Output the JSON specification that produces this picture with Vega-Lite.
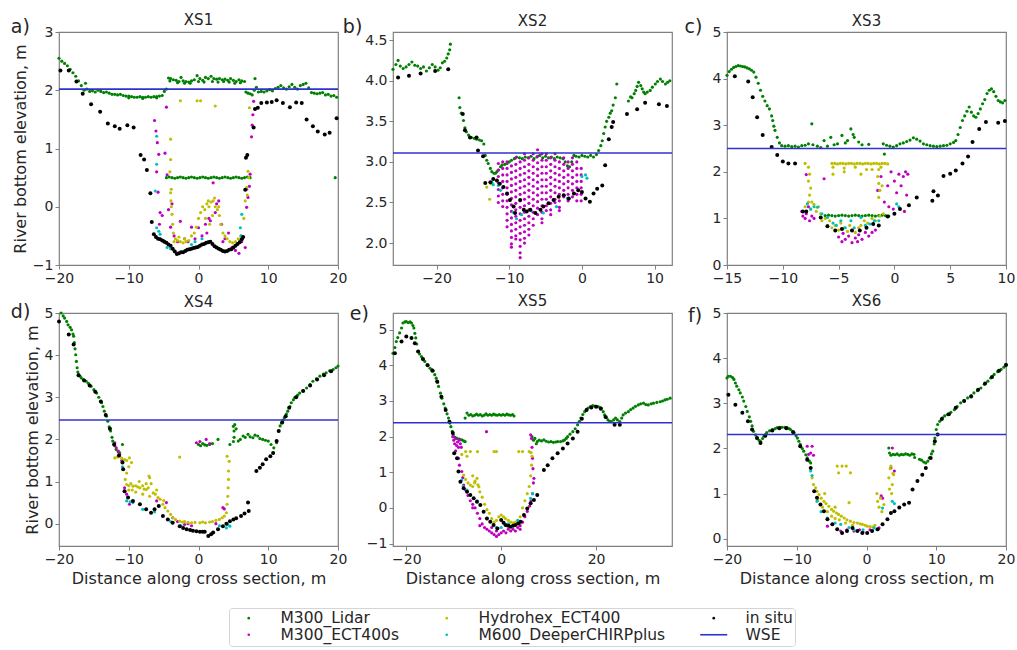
{
"$schema":"https://vega.github.io/schema/vega-lite/v6.json",
"padding":{"left":10,"top":12,"right":5,"bottom":0},
"config":{"font":"DejaVu Sans","view":{"stroke":"#808080","strokeWidth":1.2},
"axis":{"labelFont":"DejaVu Sans","labelFontSize":14,"labelColor":"#262626","labelFlush":false,"titleFont":"DejaVu Sans","titleFontSize":16,"titleFontWeight":"normal","titleColor":"#262626","tickColor":"#808080","tickSize":4,"domain":false,"grid":false,"labelPadding":2,"titlePadding":4},
"legend":{"orient":"none","legendX":170,"legendY":576,"columns":3,"labelFont":"DejaVu Sans","labelFontSize":15.5,"labelColor":"#262626","labelLimit":300,"symbolSize":7,"symbolStrokeWidth":0,"strokeColor":"#d5d5d5","fillColor":"white","cornerRadius":3,"padding":2,"rowPadding":0,"columnPadding":30,"symbolOffset":10,"labelOffset":24}},
"data":{"values":[
{"p":1,"s":"T","k":"n","t":"a)"},{"p":1,"s":"T","k":"h","t":"XS1"},{"p":2,"s":"T","k":"n","t":"b)"},{"p":2,"s":"T","k":"h","t":"XS2"},{"p":3,"s":"T","k":"n","t":"c)"},{"p":3,"s":"T","k":"h","t":"XS3"},{"p":4,"s":"T","k":"n","t":"d)"},{"p":4,"s":"T","k":"h","t":"XS4"},{"p":5,"s":"T","k":"n","t":"e)"},{"p":5,"s":"T","k":"h","t":"XS5"},{"p":6,"s":"T","k":"n","t":"f)"},{"p":6,"s":"T","k":"h","t":"XS6"},
{"p":1,"s":"L","x":-20,"y":2.55},{"p":1,"s":"L","x":-19.6,"y":2.5},{"p":1,"s":"L","x":-19.2,"y":2.46},{"p":1,"s":"L","x":-18.8,"y":2.42},{"p":1,"s":"L","x":-18.4,"y":2.36},{"p":1,"s":"L","x":-18,"y":2.3},{"p":1,"s":"L","x":-17.6,"y":2.24},{"p":1,"s":"L","x":-17.2,"y":2.16},{"p":1,"s":"L","x":-16.8,"y":2.08},{"p":1,"s":"L","x":-16.4,"y":2.0},{"p":1,"s":"L","x":-16.2,"y":2.12},{"p":1,"s":"L","x":-16,"y":2.02},{"p":1,"s":"L","x":-15.6,"y":1.98},{"p":1,"s":"L","x":-15.2,"y":1.99},{"p":1,"s":"L","x":-14.8,"y":1.97},{"p":1,"s":"L","x":-14.4,"y":2.0},{"p":1,"s":"L","x":-14,"y":1.98},{"p":1,"s":"L","x":-13.6,"y":1.96},{"p":1,"s":"L","x":-13.2,"y":1.97},{"p":1,"s":"L","x":-12.8,"y":1.95},{"p":1,"s":"L","x":-12.4,"y":1.93},{"p":1,"s":"L","x":-12,"y":1.93},{"p":1,"s":"L","x":-11.6,"y":1.92},{"p":1,"s":"L","x":-11.2,"y":1.93},{"p":1,"s":"L","x":-10.8,"y":1.91},{"p":1,"s":"L","x":-10.4,"y":1.9},{"p":1,"s":"L","x":-10,"y":1.9},{"p":1,"s":"L","x":-9.6,"y":1.89},{"p":1,"s":"L","x":-9.2,"y":1.88},{"p":1,"s":"L","x":-8.8,"y":1.88},{"p":1,"s":"L","x":-8.4,"y":1.89},{"p":1,"s":"L","x":-8,"y":1.88},{"p":1,"s":"L","x":-7.6,"y":1.88},{"p":1,"s":"L","x":-7.2,"y":1.89},{"p":1,"s":"L","x":-6.8,"y":1.88},{"p":1,"s":"L","x":-6.4,"y":1.89},{"p":1,"s":"L","x":-6,"y":1.89},{"p":1,"s":"L","x":-5.6,"y":1.9},{"p":1,"s":"L","x":-5.2,"y":1.91},{"p":1,"s":"L","x":-4.9,"y":1.98},{"p":1,"s":"L","x":-4.6,"y":2.02},{"p":1,"s":"L","x":-4.3,"y":2.21},{"p":1,"s":"L","x":-4,"y":2.2},{"p":1,"s":"L","x":-3.6,"y":2.18},{"p":1,"s":"L","x":-3.2,"y":2.17},{"p":1,"s":"L","x":-2.8,"y":2.15},{"p":1,"s":"L","x":-2.5,"y":2.22},{"p":1,"s":"L","x":-2.2,"y":2.16},{"p":1,"s":"L","x":-1.8,"y":2.15},{"p":1,"s":"L","x":-1.4,"y":2.14},{"p":1,"s":"L","x":-1,"y":2.16},{"p":1,"s":"L","x":-0.6,"y":2.18},{"p":1,"s":"L","x":-0.2,"y":2.25},{"p":1,"s":"L","x":0.2,"y":2.2},{"p":1,"s":"L","x":0.6,"y":2.17},{"p":1,"s":"L","x":1,"y":2.22},{"p":1,"s":"L","x":1.4,"y":2.2},{"p":1,"s":"L","x":1.8,"y":2.24},{"p":1,"s":"L","x":2.2,"y":2.2},{"p":1,"s":"L","x":2.6,"y":2.19},{"p":1,"s":"L","x":3,"y":2.2},{"p":1,"s":"L","x":3.4,"y":2.18},{"p":1,"s":"L","x":3.8,"y":2.19},{"p":1,"s":"L","x":4.2,"y":2.17},{"p":1,"s":"L","x":4.6,"y":2.2},{"p":1,"s":"L","x":5,"y":2.17},{"p":1,"s":"L","x":5.4,"y":2.15},{"p":1,"s":"L","x":5.8,"y":2.18},{"p":1,"s":"L","x":6.2,"y":2.16},{"p":1,"s":"L","x":6.6,"y":2.15},{"p":1,"s":"L","x":6.8,"y":1.97},{"p":1,"s":"L","x":7.1,"y":1.95},{"p":1,"s":"L","x":7.4,"y":1.94},{"p":1,"s":"L","x":7.7,"y":1.92},{"p":1,"s":"L","x":8,"y":2.0},{"p":1,"s":"L","x":8.1,"y":2.2},{"p":1,"s":"L","x":8.3,"y":2.05},{"p":1,"s":"L","x":8.6,"y":1.97},{"p":1,"s":"L","x":9,"y":1.98},{"p":1,"s":"L","x":9.4,"y":1.97},{"p":1,"s":"L","x":9.8,"y":1.99},{"p":1,"s":"L","x":10.2,"y":2.01},{"p":1,"s":"L","x":10.6,"y":1.99},{"p":1,"s":"L","x":11,"y":2.03},{"p":1,"s":"L","x":11.4,"y":2.05},{"p":1,"s":"L","x":11.8,"y":2.08},{"p":1,"s":"L","x":12.2,"y":2.04},{"p":1,"s":"L","x":12.6,"y":2.02},{"p":1,"s":"L","x":13,"y":2.06},{"p":1,"s":"L","x":13.4,"y":2.1},{"p":1,"s":"L","x":13.8,"y":2.05},{"p":1,"s":"L","x":14.2,"y":2.02},{"p":1,"s":"L","x":14.6,"y":2.08},{"p":1,"s":"L","x":15,"y":2.1},{"p":1,"s":"L","x":15.4,"y":2.12},{"p":1,"s":"L","x":15.8,"y":2.04},{"p":1,"s":"L","x":16.2,"y":1.96},{"p":1,"s":"L","x":16.6,"y":1.95},{"p":1,"s":"L","x":17,"y":1.94},{"p":1,"s":"L","x":17.4,"y":1.95},{"p":1,"s":"L","x":17.8,"y":1.96},{"p":1,"s":"L","x":18.2,"y":1.92},{"p":1,"s":"L","x":18.6,"y":1.93},{"p":1,"s":"L","x":19,"y":1.9},{"p":1,"s":"L","x":19.4,"y":1.91},{"p":1,"s":"L","x":19.8,"y":1.88},
{"p":1,"s":"L","x":-4.1,"y":2.16},{"p":1,"s":"L","x":-3,"y":2.13},{"p":1,"s":"L","x":-2,"y":2.12},{"p":1,"s":"L","x":-1.2,"y":2.12},{"p":1,"s":"L","x":0,"y":2.15},{"p":1,"s":"L","x":0.8,"y":2.14},{"p":1,"s":"L","x":2,"y":2.15},{"p":1,"s":"L","x":2.8,"y":2.14},{"p":1,"s":"L","x":3.6,"y":2.15},{"p":1,"s":"L","x":4.4,"y":2.14},{"p":1,"s":"L","x":5.2,"y":2.12},{"p":1,"s":"L","x":6,"y":2.13},{"p":1,"s":"L","x":-10,"y":1.87},{"p":1,"s":"L","x":-8,"y":1.86},{"p":1,"s":"L","x":-6,"y":1.87},
{"p":1,"s":"L","x":-4.6,"y":0.5},{"p":1,"s":"L","x":-4.2,"y":0.51},{"p":1,"s":"L","x":-3.8,"y":0.5},{"p":1,"s":"L","x":-3.4,"y":0.49},{"p":1,"s":"L","x":-3,"y":0.5},{"p":1,"s":"L","x":-2.6,"y":0.51},{"p":1,"s":"L","x":-2.2,"y":0.5},{"p":1,"s":"L","x":-1.8,"y":0.49},{"p":1,"s":"L","x":-1.4,"y":0.5},{"p":1,"s":"L","x":-1,"y":0.51},{"p":1,"s":"L","x":-0.6,"y":0.5},{"p":1,"s":"L","x":-0.2,"y":0.49},{"p":1,"s":"L","x":0.2,"y":0.5},{"p":1,"s":"L","x":0.6,"y":0.51},{"p":1,"s":"L","x":1,"y":0.5},{"p":1,"s":"L","x":1.4,"y":0.49},{"p":1,"s":"L","x":1.8,"y":0.5},{"p":1,"s":"L","x":2.2,"y":0.51},{"p":1,"s":"L","x":2.6,"y":0.5},{"p":1,"s":"L","x":3,"y":0.49},{"p":1,"s":"L","x":3.4,"y":0.5},{"p":1,"s":"L","x":3.8,"y":0.51},{"p":1,"s":"L","x":4.2,"y":0.5},{"p":1,"s":"L","x":4.6,"y":0.49},{"p":1,"s":"L","x":5,"y":0.5},{"p":1,"s":"L","x":5.4,"y":0.51},{"p":1,"s":"L","x":5.8,"y":0.5},{"p":1,"s":"L","x":6.2,"y":0.49},{"p":1,"s":"L","x":6.6,"y":0.5},{"p":1,"s":"L","x":7,"y":0.51},{"p":1,"s":"L","x":7.4,"y":0.5},{"p":1,"s":"L","x":19.6,"y":0.5},
{"p":1,"s":"E","x":-6.3,"y":1.48},{"p":1,"s":"E","x":-6.1,"y":1.3},{"p":1,"s":"E","x":-5.9,"y":1.1},{"p":1,"s":"E","x":-5.7,"y":0.9},{"p":1,"s":"E","x":-6,"y":0.6},{"p":1,"s":"E","x":-5.8,"y":0.25},{"p":1,"s":"E","x":-5.5,"y":-0.1},{"p":1,"s":"E","x":-5.2,"y":-0.15},{"p":1,"s":"E","x":-4.6,"y":1.71},{"p":1,"s":"E","x":-4.8,"y":0.92},{"p":1,"s":"E","x":-4.5,"y":0.55},{"p":1,"s":"E","x":-4.3,"y":-0.05},{"p":1,"s":"E","x":-4,"y":-0.35},{"p":1,"s":"E","x":-3.5,"y":-0.5},{"p":1,"s":"E","x":-3,"y":-0.6},{"p":1,"s":"E","x":-2.6,"y":-0.25},{"p":1,"s":"E","x":-2,"y":-0.55},{"p":1,"s":"E","x":-1.5,"y":-0.6},{"p":1,"s":"E","x":-1,"y":-0.35},{"p":1,"s":"E","x":-0.5,"y":-0.55},{"p":1,"s":"E","x":0,"y":-0.36},{"p":1,"s":"E","x":0.5,"y":-0.5},{"p":1,"s":"E","x":1,"y":-0.3},{"p":1,"s":"E","x":1.5,"y":-0.2},{"p":1,"s":"E","x":1.7,"y":-0.24},{"p":1,"s":"E","x":2.1,"y":0.41},{"p":1,"s":"E","x":2.6,"y":0.05},{"p":1,"s":"E","x":2.9,"y":0.1},{"p":1,"s":"E","x":3.3,"y":-0.3},{"p":1,"s":"E","x":3.8,"y":-0.55},{"p":1,"s":"E","x":4.3,"y":-0.45},{"p":1,"s":"E","x":4.8,"y":-0.7},{"p":1,"s":"E","x":5.3,"y":-0.75},{"p":1,"s":"E","x":5.8,"y":-0.8},{"p":1,"s":"E","x":6.2,"y":-0.6},{"p":1,"s":"E","x":6.7,"y":-0.7},{"p":1,"s":"E","x":6.9,"y":-0.01},{"p":1,"s":"E","x":7.1,"y":0.16},{"p":1,"s":"E","x":7.3,"y":0.35},{"p":1,"s":"E","x":7.4,"y":0.56},{"p":1,"s":"E","x":7.6,"y":1.2},{"p":1,"s":"E","x":7.7,"y":1.4},{"p":1,"s":"E","x":7.8,"y":1.58},{"p":1,"s":"E","x":7.9,"y":1.81},{"p":1,"s":"E","x":6.9,"y":0.3},{"p":1,"s":"E","x":-3.8,"y":0.05},{"p":1,"s":"E","x":2.4,"y":-0.1},{"p":1,"s":"E","x":3.5,"y":-0.6},{"p":1,"s":"E","x":1.2,"y":-0.45},{"p":1,"s":"E","x":-5.6,"y":-0.3},
{"p":1,"s":"H","x":-2.6,"y":1.82},{"p":1,"s":"H","x":-0.2,"y":1.82},{"p":1,"s":"H","x":0.3,"y":1.82},{"p":1,"s":"H","x":2.4,"y":1.73},{"p":1,"s":"H","x":7.3,"y":1.7},{"p":1,"s":"H","x":-4,"y":1.16},{"p":1,"s":"H","x":-4,"y":0.81},{"p":1,"s":"H","x":-4.1,"y":0.6},{"p":1,"s":"H","x":-4,"y":0.24},{"p":1,"s":"H","x":-3.95,"y":0.1},{"p":1,"s":"H","x":-3.9,"y":0},{"p":1,"s":"H","x":-3.8,"y":-0.13},{"p":1,"s":"H","x":-3.9,"y":0.3},{"p":1,"s":"H","x":-3.7,"y":-0.3},{"p":1,"s":"H","x":-3.6,"y":-0.45},{"p":1,"s":"H","x":-3.3,"y":-0.55},{"p":1,"s":"H","x":-3,"y":-0.58},{"p":1,"s":"H","x":-2.6,"y":-0.6},{"p":1,"s":"H","x":-2.2,"y":-0.62},{"p":1,"s":"H","x":-1.8,"y":-0.6},{"p":1,"s":"H","x":-1.4,"y":-0.58},{"p":1,"s":"H","x":-1,"y":-0.5},{"p":1,"s":"H","x":-0.6,"y":-0.45},{"p":1,"s":"H","x":-0.3,"y":-0.35},{"p":1,"s":"H","x":0,"y":-0.2},{"p":1,"s":"H","x":0.3,"y":-0.1},{"p":1,"s":"H","x":0.6,"y":0},{"p":1,"s":"H","x":0.9,"y":-0.05},{"p":1,"s":"H","x":1.2,"y":0.05},{"p":1,"s":"H","x":1.5,"y":0},{"p":1,"s":"H","x":1.8,"y":0.08},{"p":1,"s":"H","x":2.1,"y":0.1},{"p":1,"s":"H","x":2.4,"y":0},{"p":1,"s":"H","x":2.7,"y":-0.05},{"p":1,"s":"H","x":3,"y":-0.15},{"p":1,"s":"H","x":3.2,"y":-0.3},{"p":1,"s":"H","x":3.5,"y":-0.45},{"p":1,"s":"H","x":3.8,"y":-0.5},{"p":1,"s":"H","x":4.1,"y":-0.55},{"p":1,"s":"H","x":4.5,"y":-0.6},{"p":1,"s":"H","x":4.9,"y":-0.62},{"p":1,"s":"H","x":5.3,"y":-0.6},{"p":1,"s":"H","x":5.7,"y":-0.55},{"p":1,"s":"H","x":6.1,"y":-0.5},{"p":1,"s":"H","x":6.5,"y":-0.2},{"p":1,"s":"H","x":6.7,"y":0.1},{"p":1,"s":"H","x":6.9,"y":0.33},{"p":1,"s":"H","x":7.1,"y":0.61},{"p":1,"s":"H","x":7.2,"y":0.5},{"p":1,"s":"H","x":7,"y":0.2},{"p":1,"s":"H","x":1,"y":-0.2},{"p":1,"s":"H","x":2,"y":-0.15},{"p":1,"s":"H","x":1.6,"y":-0.3},{"p":1,"s":"H","x":2.9,"y":0},{"p":1,"s":"H","x":-3.5,"y":-0.6},{"p":1,"s":"H","x":-2.8,"y":-0.52},{"p":1,"s":"H","x":-2,"y":-0.55},{"p":1,"s":"H","x":1.4,"y":0.1},{"p":1,"s":"H","x":2.3,"y":0.15},
{"p":1,"s":"D","x":-6,"y":1.21},{"p":1,"s":"D","x":-6,"y":0.73},{"p":1,"s":"D","x":-6.2,"y":0.27},{"p":1,"s":"D","x":-6,"y":-0.36},{"p":1,"s":"D","x":-5.7,"y":-0.42},{"p":1,"s":"D","x":-5.5,"y":-0.47},{"p":1,"s":"D","x":-5,"y":-0.58},{"p":1,"s":"D","x":-4.5,"y":-0.7},{"p":1,"s":"D","x":-4,"y":-0.72},{"p":1,"s":"D","x":-3.5,"y":-0.75},{"p":1,"s":"D","x":-1,"y":-0.65},{"p":1,"s":"D","x":-0.5,"y":-0.6},{"p":1,"s":"D","x":0.5,"y":-0.55},{"p":1,"s":"D","x":1,"y":-0.63},{"p":1,"s":"D","x":1.5,"y":-0.6},{"p":1,"s":"D","x":6,"y":-0.36},{"p":1,"s":"D","x":6.2,"y":-0.13},{"p":1,"s":"D","x":6.1,"y":-0.5},{"p":1,"s":"D","x":5.9,"y":-0.6},
{"p":1,"s":"I","x":-19.8,"y":2.34},{"p":1,"s":"I","x":-18.6,"y":2.34},{"p":1,"s":"I","x":-17.5,"y":2.15},{"p":1,"s":"I","x":-16.6,"y":1.94},{"p":1,"s":"I","x":-15.4,"y":1.76},{"p":1,"s":"I","x":-14.1,"y":1.63},{"p":1,"s":"I","x":-13,"y":1.43},{"p":1,"s":"I","x":-12,"y":1.38},{"p":1,"s":"I","x":-11.3,"y":1.34},{"p":1,"s":"I","x":-10.2,"y":1.4},{"p":1,"s":"I","x":-9.3,"y":1.36},{"p":1,"s":"I","x":-8.3,"y":0.89},{"p":1,"s":"I","x":-7.8,"y":0.81},{"p":1,"s":"I","x":-7.4,"y":0.63},{"p":1,"s":"I","x":-6.9,"y":0.23},{"p":1,"s":"I","x":-6.7,"y":-0.26},{"p":1,"s":"I","x":-6.4,"y":-0.47},{"p":1,"s":"I","x":-6.1,"y":-0.52},{"p":1,"s":"I","x":-5.8,"y":-0.55},{"p":1,"s":"I","x":-5.5,"y":-0.56},{"p":1,"s":"I","x":-5.2,"y":-0.58},{"p":1,"s":"I","x":-4.9,"y":-0.6},{"p":1,"s":"I","x":-4.6,"y":-0.62},{"p":1,"s":"I","x":-4.3,"y":-0.65},{"p":1,"s":"I","x":-4,"y":-0.67},{"p":1,"s":"I","x":-3.7,"y":-0.72},{"p":1,"s":"I","x":-3.4,"y":-0.77},{"p":1,"s":"I","x":-3.1,"y":-0.81},{"p":1,"s":"I","x":-2.8,"y":-0.8},{"p":1,"s":"I","x":-2.5,"y":-0.78},{"p":1,"s":"I","x":-2.2,"y":-0.78},{"p":1,"s":"I","x":-1.9,"y":-0.76},{"p":1,"s":"I","x":-1.6,"y":-0.74},{"p":1,"s":"I","x":-1.3,"y":-0.73},{"p":1,"s":"I","x":-1,"y":-0.72},{"p":1,"s":"I","x":-0.7,"y":-0.71},{"p":1,"s":"I","x":-0.4,"y":-0.7},{"p":1,"s":"I","x":-0.1,"y":-0.69},{"p":1,"s":"I","x":0.2,"y":-0.67},{"p":1,"s":"I","x":0.5,"y":-0.65},{"p":1,"s":"I","x":0.8,"y":-0.64},{"p":1,"s":"I","x":1.1,"y":-0.62},{"p":1,"s":"I","x":1.4,"y":-0.61},{"p":1,"s":"I","x":1.7,"y":-0.6},{"p":1,"s":"I","x":2,"y":-0.64},{"p":1,"s":"I","x":2.3,"y":-0.68},{"p":1,"s":"I","x":2.6,"y":-0.7},{"p":1,"s":"I","x":2.9,"y":-0.72},{"p":1,"s":"I","x":3.2,"y":-0.74},{"p":1,"s":"I","x":3.5,"y":-0.76},{"p":1,"s":"I","x":3.8,"y":-0.77},{"p":1,"s":"I","x":4.1,"y":-0.76},{"p":1,"s":"I","x":4.4,"y":-0.74},{"p":1,"s":"I","x":4.7,"y":-0.73},{"p":1,"s":"I","x":5,"y":-0.7},{"p":1,"s":"I","x":5.3,"y":-0.67},{"p":1,"s":"I","x":5.6,"y":-0.64},{"p":1,"s":"I","x":5.9,"y":-0.61},{"p":1,"s":"I","x":6.2,"y":-0.56},{"p":1,"s":"I","x":6.4,"y":-0.52},{"p":1,"s":"I","x":6.7,"y":0.29},{"p":1,"s":"I","x":6.8,"y":0.84},{"p":1,"s":"I","x":7,"y":0.89},{"p":1,"s":"I","x":7.9,"y":1.36},{"p":1,"s":"I","x":8.1,"y":1.68},{"p":1,"s":"I","x":8.5,"y":1.7},{"p":1,"s":"I","x":9,"y":1.78},{"p":1,"s":"I","x":9.8,"y":1.79},{"p":1,"s":"I","x":10.5,"y":1.8},{"p":1,"s":"I","x":11.2,"y":1.83},{"p":1,"s":"I","x":12.1,"y":1.78},{"p":1,"s":"I","x":13.1,"y":1.71},{"p":1,"s":"I","x":14,"y":1.79},{"p":1,"s":"I","x":14.8,"y":1.78},{"p":1,"s":"I","x":15.5,"y":1.5},{"p":1,"s":"I","x":16.4,"y":1.38},{"p":1,"s":"I","x":17.1,"y":1.29},{"p":1,"s":"I","x":18.1,"y":1.24},{"p":1,"s":"I","x":18.8,"y":1.27},{"p":1,"s":"I","x":19.8,"y":1.52},
{"p":1,"s":"W","x":-20,"x2":20,"y":2.02},
{"p":2,"s":"L","x":-26,"y":4.14},{"p":2,"s":"L","x":-25.6,"y":4.2},{"p":2,"s":"L","x":-25.3,"y":4.25},{"p":2,"s":"L","x":-25,"y":4.18},{"p":2,"s":"L","x":-24.6,"y":4.15},{"p":2,"s":"L","x":-24.2,"y":4.17},{"p":2,"s":"L","x":-23.8,"y":4.2},{"p":2,"s":"L","x":-23.4,"y":4.23},{"p":2,"s":"L","x":-23,"y":4.19},{"p":2,"s":"L","x":-22.6,"y":4.18},{"p":2,"s":"L","x":-22.2,"y":4.15},{"p":2,"s":"L","x":-21.8,"y":4.17},{"p":2,"s":"L","x":-21.4,"y":4.12},{"p":2,"s":"L","x":-21,"y":4.16},{"p":2,"s":"L","x":-20.6,"y":4.2},{"p":2,"s":"L","x":-20.2,"y":4.17},{"p":2,"s":"L","x":-19.8,"y":4.13},{"p":2,"s":"L","x":-19.5,"y":4.16},{"p":2,"s":"L","x":-19.2,"y":4.22},{"p":2,"s":"L","x":-18.9,"y":4.24},{"p":2,"s":"L","x":-18.6,"y":4.28},{"p":2,"s":"L","x":-18.4,"y":4.33},{"p":2,"s":"L","x":-18.2,"y":4.38},{"p":2,"s":"L","x":-18.1,"y":4.45},
{"p":2,"s":"L","x":-16.9,"y":3.79},{"p":2,"s":"L","x":-16.8,"y":3.67},{"p":2,"s":"L","x":-16.6,"y":3.6},{"p":2,"s":"L","x":-16.3,"y":3.51},{"p":2,"s":"L","x":-16.1,"y":3.42},{"p":2,"s":"L","x":-15.9,"y":3.37},{"p":2,"s":"L","x":-15.6,"y":3.33},{"p":2,"s":"L","x":-15.2,"y":3.3},{"p":2,"s":"L","x":-14.8,"y":3.29},{"p":2,"s":"L","x":-14.5,"y":3.28},{"p":2,"s":"L","x":-14.1,"y":3.27},{"p":2,"s":"L","x":-13.8,"y":3.26},{"p":2,"s":"L","x":-13.5,"y":3.22},{"p":2,"s":"L","x":-13.3,"y":3.08},{"p":2,"s":"L","x":-13.1,"y":3.02},{"p":2,"s":"L","x":-12.9,"y":2.98},{"p":2,"s":"L","x":-12.6,"y":2.92},{"p":2,"s":"L","x":-12.4,"y":2.88},{"p":2,"s":"L","x":-12.1,"y":2.86},{"p":2,"s":"L","x":-11.9,"y":2.86},{"p":2,"s":"L","x":-11.7,"y":2.88},{"p":2,"s":"L","x":-11.5,"y":2.9},{"p":2,"s":"L","x":-11.2,"y":2.94},{"p":2,"s":"L","x":-11,"y":2.96},{"p":2,"s":"L","x":-10.6,"y":2.97},{"p":2,"s":"L","x":-10.3,"y":2.98},{"p":2,"s":"L","x":-10,"y":3.0},{"p":2,"s":"L","x":-9.7,"y":3.02},{"p":2,"s":"L","x":-9.3,"y":3.04},{"p":2,"s":"L","x":-9,"y":3.06},{"p":2,"s":"L","x":-8.6,"y":3.05},{"p":2,"s":"L","x":-8.2,"y":3.04},{"p":2,"s":"L","x":-7.8,"y":3.06},{"p":2,"s":"L","x":-7.4,"y":3.05},{"p":2,"s":"L","x":-7,"y":3.07},{"p":2,"s":"L","x":-6.6,"y":3.04},{"p":2,"s":"L","x":-6.2,"y":3.06},{"p":2,"s":"L","x":-5.8,"y":3.08},{"p":2,"s":"L","x":-5.4,"y":3.05},{"p":2,"s":"L","x":-5,"y":3.07},{"p":2,"s":"L","x":-4.6,"y":3.05},{"p":2,"s":"L","x":-4.2,"y":3.06},{"p":2,"s":"L","x":-3.8,"y":3.04},{"p":2,"s":"L","x":-3.4,"y":3.06},{"p":2,"s":"L","x":-3,"y":3.05},{"p":2,"s":"L","x":-2.6,"y":3.04},{"p":2,"s":"L","x":-2.3,"y":3.0},{"p":2,"s":"L","x":-2,"y":2.95},{"p":2,"s":"L","x":-1.7,"y":2.94},{"p":2,"s":"L","x":-1.4,"y":3.0},{"p":2,"s":"L","x":-1.1,"y":3.08},{"p":2,"s":"L","x":-0.8,"y":3.07},{"p":2,"s":"L","x":-0.4,"y":3.06},{"p":2,"s":"L","x":0,"y":3.08},{"p":2,"s":"L","x":0.4,"y":3.07},{"p":2,"s":"L","x":0.8,"y":3.06},{"p":2,"s":"L","x":1.2,"y":3.08},{"p":2,"s":"L","x":1.6,"y":3.06},{"p":2,"s":"L","x":2,"y":3.09},{"p":2,"s":"L","x":2.3,"y":3.14},{"p":2,"s":"L","x":2.6,"y":3.2},{"p":2,"s":"L","x":2.8,"y":3.26},{"p":2,"s":"L","x":3,"y":3.35},{"p":2,"s":"L","x":3.2,"y":3.43},{"p":2,"s":"L","x":3.4,"y":3.5},{"p":2,"s":"L","x":3.7,"y":3.55},{"p":2,"s":"L","x":3.9,"y":3.6},{"p":2,"s":"L","x":4.1,"y":3.63},{"p":2,"s":"L","x":4.3,"y":3.7},{"p":2,"s":"L","x":4.6,"y":3.79},{"p":2,"s":"L","x":4.8,"y":3.96},
{"p":2,"s":"L","x":6.4,"y":3.75},{"p":2,"s":"L","x":6.7,"y":3.8},{"p":2,"s":"L","x":6.9,"y":3.79},{"p":2,"s":"L","x":7.2,"y":3.84},{"p":2,"s":"L","x":7.4,"y":3.88},{"p":2,"s":"L","x":7.6,"y":3.93},{"p":2,"s":"L","x":7.8,"y":3.98},{"p":2,"s":"L","x":8.1,"y":3.94},{"p":2,"s":"L","x":8.3,"y":3.9},{"p":2,"s":"L","x":8.5,"y":3.86},{"p":2,"s":"L","x":8.7,"y":3.84},{"p":2,"s":"L","x":9,"y":3.86},{"p":2,"s":"L","x":9.4,"y":3.88},{"p":2,"s":"L","x":9.7,"y":3.92},{"p":2,"s":"L","x":10.1,"y":3.96},{"p":2,"s":"L","x":10.4,"y":3.99},{"p":2,"s":"L","x":10.8,"y":4.02},{"p":2,"s":"L","x":11.1,"y":3.99},{"p":2,"s":"L","x":11.5,"y":3.96},{"p":2,"s":"L","x":11.8,"y":3.98},{"p":2,"s":"L","x":12.1,"y":4.0},
{"p":2,"s":"E","x":-11.5,"y":2.98},{"p":2,"s":"E","x":-11.5,"y":2.9},{"p":2,"s":"E","x":-11.5,"y":2.82},{"p":2,"s":"E","x":-11.5,"y":2.74},{"p":2,"s":"E","x":-11.5,"y":2.66},{"p":2,"s":"E","x":-11.5,"y":2.58},{"p":2,"s":"E","x":-11.5,"y":2.5},
{"p":2,"s":"E","x":-10.9,"y":3.0},{"p":2,"s":"E","x":-10.9,"y":2.92},{"p":2,"s":"E","x":-10.9,"y":2.84},{"p":2,"s":"E","x":-10.9,"y":2.76},{"p":2,"s":"E","x":-10.9,"y":2.68},{"p":2,"s":"E","x":-10.9,"y":2.6},{"p":2,"s":"E","x":-10.9,"y":2.52},{"p":2,"s":"E","x":-10.9,"y":2.45},
{"p":2,"s":"E","x":-10.3,"y":3.0},{"p":2,"s":"E","x":-10.3,"y":2.92},{"p":2,"s":"E","x":-10.3,"y":2.84},{"p":2,"s":"E","x":-10.3,"y":2.76},{"p":2,"s":"E","x":-10.3,"y":2.68},{"p":2,"s":"E","x":-10.3,"y":2.6},{"p":2,"s":"E","x":-10.3,"y":2.52},{"p":2,"s":"E","x":-10.3,"y":2.44},{"p":2,"s":"E","x":-10.3,"y":2.36},{"p":2,"s":"E","x":-10.3,"y":2.28},{"p":2,"s":"E","x":-10.3,"y":2.2},
{"p":2,"s":"E","x":-9.7,"y":2.95},{"p":2,"s":"E","x":-9.7,"y":2.87},{"p":2,"s":"E","x":-9.7,"y":2.79},{"p":2,"s":"E","x":-9.7,"y":2.71},{"p":2,"s":"E","x":-9.7,"y":2.63},{"p":2,"s":"E","x":-9.7,"y":2.55},{"p":2,"s":"E","x":-9.7,"y":2.47},{"p":2,"s":"E","x":-9.7,"y":2.39},{"p":2,"s":"E","x":-9.7,"y":2.31},{"p":2,"s":"E","x":-9.7,"y":2.23},{"p":2,"s":"E","x":-9.7,"y":2.15},{"p":2,"s":"E","x":-9.7,"y":2.07},{"p":2,"s":"E","x":-9.7,"y":1.99},{"p":2,"s":"E","x":-9.7,"y":1.95},
{"p":2,"s":"E","x":-9.1,"y":3.05},{"p":2,"s":"E","x":-9.1,"y":2.97},{"p":2,"s":"E","x":-9.1,"y":2.89},{"p":2,"s":"E","x":-9.1,"y":2.81},{"p":2,"s":"E","x":-9.1,"y":2.73},{"p":2,"s":"E","x":-9.1,"y":2.65},{"p":2,"s":"E","x":-9.1,"y":2.57},{"p":2,"s":"E","x":-9.1,"y":2.49},{"p":2,"s":"E","x":-9.1,"y":2.41},{"p":2,"s":"E","x":-9.1,"y":2.33},{"p":2,"s":"E","x":-9.1,"y":2.25},{"p":2,"s":"E","x":-9.1,"y":2.17},{"p":2,"s":"E","x":-9.1,"y":2.09},{"p":2,"s":"E","x":-9.1,"y":2.05},
{"p":2,"s":"E","x":-8.5,"y":3.0},{"p":2,"s":"E","x":-8.5,"y":2.92},{"p":2,"s":"E","x":-8.5,"y":2.84},{"p":2,"s":"E","x":-8.5,"y":2.76},{"p":2,"s":"E","x":-8.5,"y":2.68},{"p":2,"s":"E","x":-8.5,"y":2.6},{"p":2,"s":"E","x":-8.5,"y":2.52},{"p":2,"s":"E","x":-8.5,"y":2.44},{"p":2,"s":"E","x":-8.5,"y":2.36},{"p":2,"s":"E","x":-8.5,"y":2.28},{"p":2,"s":"E","x":-8.5,"y":2.2},{"p":2,"s":"E","x":-8.5,"y":2.12},{"p":2,"s":"E","x":-8.5,"y":2.04},{"p":2,"s":"E","x":-8.5,"y":1.96},{"p":2,"s":"E","x":-8.5,"y":1.88},{"p":2,"s":"E","x":-8.5,"y":1.82},
{"p":2,"s":"E","x":-7.9,"y":3.1},{"p":2,"s":"E","x":-7.9,"y":3.02},{"p":2,"s":"E","x":-7.9,"y":2.94},{"p":2,"s":"E","x":-7.9,"y":2.86},{"p":2,"s":"E","x":-7.9,"y":2.78},{"p":2,"s":"E","x":-7.9,"y":2.7},{"p":2,"s":"E","x":-7.9,"y":2.62},{"p":2,"s":"E","x":-7.9,"y":2.54},{"p":2,"s":"E","x":-7.9,"y":2.46},{"p":2,"s":"E","x":-7.9,"y":2.38},{"p":2,"s":"E","x":-7.9,"y":2.3},{"p":2,"s":"E","x":-7.9,"y":2.22},{"p":2,"s":"E","x":-7.9,"y":2.14},{"p":2,"s":"E","x":-7.9,"y":2.06},{"p":2,"s":"E","x":-7.9,"y":2.0},
{"p":2,"s":"E","x":-7.3,"y":3.05},{"p":2,"s":"E","x":-7.3,"y":2.97},{"p":2,"s":"E","x":-7.3,"y":2.89},{"p":2,"s":"E","x":-7.3,"y":2.81},{"p":2,"s":"E","x":-7.3,"y":2.73},{"p":2,"s":"E","x":-7.3,"y":2.65},{"p":2,"s":"E","x":-7.3,"y":2.57},{"p":2,"s":"E","x":-7.3,"y":2.49},{"p":2,"s":"E","x":-7.3,"y":2.41},{"p":2,"s":"E","x":-7.3,"y":2.33},{"p":2,"s":"E","x":-7.3,"y":2.25},{"p":2,"s":"E","x":-7.3,"y":2.17},{"p":2,"s":"E","x":-7.3,"y":2.1},
{"p":2,"s":"E","x":-6.7,"y":3.1},{"p":2,"s":"E","x":-6.7,"y":3.02},{"p":2,"s":"E","x":-6.7,"y":2.94},{"p":2,"s":"E","x":-6.7,"y":2.86},{"p":2,"s":"E","x":-6.7,"y":2.78},{"p":2,"s":"E","x":-6.7,"y":2.7},{"p":2,"s":"E","x":-6.7,"y":2.62},{"p":2,"s":"E","x":-6.7,"y":2.54},{"p":2,"s":"E","x":-6.7,"y":2.46},{"p":2,"s":"E","x":-6.7,"y":2.38},{"p":2,"s":"E","x":-6.7,"y":2.3},{"p":2,"s":"E","x":-6.7,"y":2.22},
{"p":2,"s":"E","x":-6.1,"y":3.15},{"p":2,"s":"E","x":-6.1,"y":3.07},{"p":2,"s":"E","x":-6.1,"y":2.99},{"p":2,"s":"E","x":-6.1,"y":2.91},{"p":2,"s":"E","x":-6.1,"y":2.83},{"p":2,"s":"E","x":-6.1,"y":2.75},{"p":2,"s":"E","x":-6.1,"y":2.67},{"p":2,"s":"E","x":-6.1,"y":2.59},{"p":2,"s":"E","x":-6.1,"y":2.51},{"p":2,"s":"E","x":-6.1,"y":2.43},{"p":2,"s":"E","x":-6.1,"y":2.35},
{"p":2,"s":"E","x":-5.5,"y":3.1},{"p":2,"s":"E","x":-5.5,"y":3.02},{"p":2,"s":"E","x":-5.5,"y":2.94},{"p":2,"s":"E","x":-5.5,"y":2.86},{"p":2,"s":"E","x":-5.5,"y":2.78},{"p":2,"s":"E","x":-5.5,"y":2.7},{"p":2,"s":"E","x":-5.5,"y":2.62},{"p":2,"s":"E","x":-5.5,"y":2.54},{"p":2,"s":"E","x":-5.5,"y":2.46},{"p":2,"s":"E","x":-5.5,"y":2.38},{"p":2,"s":"E","x":-5.5,"y":2.3},{"p":2,"s":"E","x":-5.5,"y":2.25},
{"p":2,"s":"E","x":-4.9,"y":3.1},{"p":2,"s":"E","x":-4.9,"y":3.02},{"p":2,"s":"E","x":-4.9,"y":2.94},{"p":2,"s":"E","x":-4.9,"y":2.86},{"p":2,"s":"E","x":-4.9,"y":2.78},{"p":2,"s":"E","x":-4.9,"y":2.7},{"p":2,"s":"E","x":-4.9,"y":2.62},{"p":2,"s":"E","x":-4.9,"y":2.54},{"p":2,"s":"E","x":-4.9,"y":2.46},{"p":2,"s":"E","x":-4.9,"y":2.4},
{"p":2,"s":"E","x":-4.3,"y":3.05},{"p":2,"s":"E","x":-4.3,"y":2.97},{"p":2,"s":"E","x":-4.3,"y":2.89},{"p":2,"s":"E","x":-4.3,"y":2.81},{"p":2,"s":"E","x":-4.3,"y":2.73},{"p":2,"s":"E","x":-4.3,"y":2.65},{"p":2,"s":"E","x":-4.3,"y":2.57},{"p":2,"s":"E","x":-4.3,"y":2.49},{"p":2,"s":"E","x":-4.3,"y":2.41},{"p":2,"s":"E","x":-4.3,"y":2.35},
{"p":2,"s":"E","x":-3.7,"y":3.1},{"p":2,"s":"E","x":-3.7,"y":3.02},{"p":2,"s":"E","x":-3.7,"y":2.94},{"p":2,"s":"E","x":-3.7,"y":2.86},{"p":2,"s":"E","x":-3.7,"y":2.78},{"p":2,"s":"E","x":-3.7,"y":2.7},{"p":2,"s":"E","x":-3.7,"y":2.62},{"p":2,"s":"E","x":-3.7,"y":2.54},{"p":2,"s":"E","x":-3.7,"y":2.5},
{"p":2,"s":"E","x":-3.1,"y":3.0},{"p":2,"s":"E","x":-3.1,"y":2.92},{"p":2,"s":"E","x":-3.1,"y":2.84},{"p":2,"s":"E","x":-3.1,"y":2.76},{"p":2,"s":"E","x":-3.1,"y":2.68},{"p":2,"s":"E","x":-3.1,"y":2.6},{"p":2,"s":"E","x":-3.1,"y":2.52},{"p":2,"s":"E","x":-3.1,"y":2.44},{"p":2,"s":"E","x":-3.1,"y":2.4},
{"p":2,"s":"E","x":-2.5,"y":3.05},{"p":2,"s":"E","x":-2.5,"y":2.97},{"p":2,"s":"E","x":-2.5,"y":2.89},{"p":2,"s":"E","x":-2.5,"y":2.81},{"p":2,"s":"E","x":-2.5,"y":2.73},{"p":2,"s":"E","x":-2.5,"y":2.65},{"p":2,"s":"E","x":-2.5,"y":2.57},
{"p":2,"s":"E","x":-1.9,"y":3.0},{"p":2,"s":"E","x":-1.9,"y":2.92},{"p":2,"s":"E","x":-1.9,"y":2.84},{"p":2,"s":"E","x":-1.9,"y":2.76},{"p":2,"s":"E","x":-1.9,"y":2.68},{"p":2,"s":"E","x":-1.9,"y":2.6},{"p":2,"s":"E","x":-1.9,"y":2.52},
{"p":2,"s":"E","x":-1.3,"y":3.05},{"p":2,"s":"E","x":-1.3,"y":2.97},{"p":2,"s":"E","x":-1.3,"y":2.89},{"p":2,"s":"E","x":-1.3,"y":2.81},{"p":2,"s":"E","x":-1.3,"y":2.73},{"p":2,"s":"E","x":-1.3,"y":2.65},{"p":2,"s":"E","x":-1.3,"y":2.57},
{"p":2,"s":"E","x":-0.7,"y":3.0},{"p":2,"s":"E","x":-0.7,"y":2.92},{"p":2,"s":"E","x":-0.7,"y":2.84},{"p":2,"s":"E","x":-0.7,"y":2.76},{"p":2,"s":"E","x":-0.7,"y":2.68},{"p":2,"s":"E","x":-0.7,"y":2.6},{"p":2,"s":"E","x":-0.7,"y":2.52},
{"p":2,"s":"E","x":-0.1,"y":2.92},{"p":2,"s":"E","x":-0.1,"y":2.84},{"p":2,"s":"E","x":-0.1,"y":2.76},{"p":2,"s":"E","x":-0.1,"y":2.68},{"p":2,"s":"E","x":-0.1,"y":2.6},{"p":2,"s":"E","x":-0.1,"y":2.52},
{"p":2,"s":"H","x":-12.7,"y":2.54},{"p":2,"s":"H","x":-13.1,"y":2.69},{"p":2,"s":"H","x":-12.5,"y":2.73},
{"p":2,"s":"D","x":-12.4,"y":2.75},{"p":2,"s":"D","x":-12.2,"y":2.72},{"p":2,"s":"D","x":-11.5,"y":2.71},{"p":2,"s":"D","x":-11.2,"y":2.65},{"p":2,"s":"D","x":-9.5,"y":2.38},{"p":2,"s":"D","x":-9,"y":2.3},{"p":2,"s":"D","x":-8.3,"y":2.35},{"p":2,"s":"D","x":-7,"y":2.4},{"p":2,"s":"D","x":-5.3,"y":2.37},{"p":2,"s":"D","x":-3.5,"y":2.45},{"p":2,"s":"D","x":-2,"y":2.55},{"p":2,"s":"D","x":0,"y":2.82},{"p":2,"s":"D","x":0.5,"y":2.84},{"p":2,"s":"D","x":0.7,"y":2.8},
{"p":2,"s":"I","x":-25.3,"y":4.04},{"p":2,"s":"I","x":-23.8,"y":4.06},{"p":2,"s":"I","x":-22.2,"y":4.09},{"p":2,"s":"I","x":-20.2,"y":4.12},{"p":2,"s":"I","x":-18.4,"y":4.14},{"p":2,"s":"I","x":-16.4,"y":3.59},{"p":2,"s":"I","x":-16.1,"y":3.39},{"p":2,"s":"I","x":-15.4,"y":3.3},{"p":2,"s":"I","x":-14.5,"y":3.3},{"p":2,"s":"I","x":-14.3,"y":3.14},{"p":2,"s":"I","x":-13.6,"y":3.07},{"p":2,"s":"I","x":-13.3,"y":2.74},{"p":2,"s":"I","x":-12.6,"y":2.75},{"p":2,"s":"I","x":-12.2,"y":2.79},{"p":2,"s":"I","x":-11.7,"y":2.77},{"p":2,"s":"I","x":-11.3,"y":2.73},{"p":2,"s":"I","x":-10.8,"y":2.69},{"p":2,"s":"I","x":-10.3,"y":2.61},{"p":2,"s":"I","x":-9.9,"y":2.53},{"p":2,"s":"I","x":-9.4,"y":2.45},{"p":2,"s":"I","x":-9.2,"y":2.37},{"p":2,"s":"I","x":-8.5,"y":2.53},{"p":2,"s":"I","x":-8,"y":2.41},{"p":2,"s":"I","x":-7.6,"y":2.39},{"p":2,"s":"I","x":-7.1,"y":2.41},{"p":2,"s":"I","x":-6.4,"y":2.37},{"p":2,"s":"I","x":-5.7,"y":2.41},{"p":2,"s":"I","x":-5.3,"y":2.45},{"p":2,"s":"I","x":-4.6,"y":2.49},{"p":2,"s":"I","x":-3.9,"y":2.53},{"p":2,"s":"I","x":-3.2,"y":2.57},{"p":2,"s":"I","x":-2.5,"y":2.59},{"p":2,"s":"I","x":-1.8,"y":2.55},{"p":2,"s":"I","x":-1.1,"y":2.61},{"p":2,"s":"I","x":-0.5,"y":2.65},{"p":2,"s":"I","x":0,"y":2.63},{"p":2,"s":"I","x":0.5,"y":2.55},{"p":2,"s":"I","x":1.1,"y":2.51},{"p":2,"s":"I","x":1.6,"y":2.61},{"p":2,"s":"I","x":2.1,"y":2.67},{"p":2,"s":"I","x":2.8,"y":2.71},{"p":2,"s":"I","x":3.2,"y":2.96},{"p":2,"s":"I","x":3.7,"y":3.28},{"p":2,"s":"I","x":4.1,"y":3.43},{"p":2,"s":"I","x":4.3,"y":3.49},{"p":2,"s":"I","x":6.2,"y":3.59},{"p":2,"s":"I","x":7.6,"y":3.65},{"p":2,"s":"I","x":8.7,"y":3.73},{"p":2,"s":"I","x":10.6,"y":3.71},{"p":2,"s":"I","x":11.7,"y":3.69},
{"p":2,"s":"W","x":-26,"x2":12.4,"y":3.11},
{"p":3,"s":"L","x":-15,"y":4.07},{"p":3,"s":"L","x":-14.8,"y":4.15},{"p":3,"s":"L","x":-14.6,"y":4.2},{"p":3,"s":"L","x":-14.4,"y":4.24},{"p":3,"s":"L","x":-14.2,"y":4.26},{"p":3,"s":"L","x":-14,"y":4.28},{"p":3,"s":"L","x":-13.8,"y":4.27},{"p":3,"s":"L","x":-13.6,"y":4.26},{"p":3,"s":"L","x":-13.4,"y":4.25},{"p":3,"s":"L","x":-13.2,"y":4.23},{"p":3,"s":"L","x":-13,"y":4.21},{"p":3,"s":"L","x":-12.8,"y":4.18},{"p":3,"s":"L","x":-12.6,"y":4.14},{"p":3,"s":"L","x":-12.4,"y":4.03},{"p":3,"s":"L","x":-12.2,"y":3.9},{"p":3,"s":"L","x":-12,"y":3.75},{"p":3,"s":"L","x":-11.8,"y":3.62},{"p":3,"s":"L","x":-11.6,"y":3.52},{"p":3,"s":"L","x":-11.4,"y":3.42},{"p":3,"s":"L","x":-11.2,"y":3.35},{"p":3,"s":"L","x":-11,"y":3.2},{"p":3,"s":"L","x":-10.9,"y":3.1},{"p":3,"s":"L","x":-10.8,"y":2.98},{"p":3,"s":"L","x":-10.7,"y":2.89},{"p":3,"s":"L","x":-10.5,"y":2.74},{"p":3,"s":"L","x":-10.3,"y":2.62},{"p":3,"s":"L","x":-10.1,"y":2.56},{"p":3,"s":"L","x":-9.8,"y":2.55},{"p":3,"s":"L","x":-9.5,"y":2.56},{"p":3,"s":"L","x":-9.2,"y":2.54},{"p":3,"s":"L","x":-8.9,"y":2.55},{"p":3,"s":"L","x":-8.6,"y":2.53},{"p":3,"s":"L","x":-8.3,"y":2.56},{"p":3,"s":"L","x":-8,"y":2.57},{"p":3,"s":"L","x":-7.7,"y":2.6},{"p":3,"s":"L","x":-7.4,"y":3.03},{"p":3,"s":"L","x":-7.3,"y":2.58},{"p":3,"s":"L","x":-6.9,"y":2.55},{"p":3,"s":"L","x":-6.6,"y":2.52},{"p":3,"s":"L","x":-6.3,"y":2.67},{"p":3,"s":"L","x":-6,"y":2.55},{"p":3,"s":"L","x":-5.7,"y":2.74},{"p":3,"s":"L","x":-5.4,"y":2.58},{"p":3,"s":"L","x":-5.1,"y":2.6},{"p":3,"s":"L","x":-4.7,"y":2.78},{"p":3,"s":"L","x":-4.4,"y":2.62},{"p":3,"s":"L","x":-4.2,"y":2.67},{"p":3,"s":"L","x":-3.9,"y":2.92},{"p":3,"s":"L","x":-3.7,"y":2.8},{"p":3,"s":"L","x":-3.6,"y":2.74},{"p":3,"s":"L","x":-3.2,"y":2.64},{"p":3,"s":"L","x":-2.9,"y":2.58},{"p":3,"s":"L","x":-2.3,"y":2.59},{"p":3,"s":"L","x":-1,"y":2.6},{"p":3,"s":"L","x":-0.9,"y":2.38},{"p":3,"s":"L","x":-0.7,"y":2.57},{"p":3,"s":"L","x":-0.4,"y":2.55},{"p":3,"s":"L","x":-0.1,"y":2.53},{"p":3,"s":"L","x":0.2,"y":2.56},{"p":3,"s":"L","x":0.5,"y":2.6},{"p":3,"s":"L","x":0.8,"y":2.62},{"p":3,"s":"L","x":1.1,"y":2.65},{"p":3,"s":"L","x":1.4,"y":2.68},{"p":3,"s":"L","x":1.7,"y":2.73},{"p":3,"s":"L","x":2,"y":2.7},{"p":3,"s":"L","x":2.3,"y":2.66},{"p":3,"s":"L","x":2.6,"y":2.6},{"p":3,"s":"L","x":2.9,"y":2.58},{"p":3,"s":"L","x":3.2,"y":2.56},{"p":3,"s":"L","x":3.5,"y":2.55},{"p":3,"s":"L","x":3.8,"y":2.54},{"p":3,"s":"L","x":4.1,"y":2.55},{"p":3,"s":"L","x":4.4,"y":2.56},{"p":3,"s":"L","x":4.7,"y":2.57},{"p":3,"s":"L","x":5,"y":2.6},{"p":3,"s":"L","x":5.3,"y":2.63},{"p":3,"s":"L","x":5.5,"y":2.67},{"p":3,"s":"L","x":5.7,"y":2.8},{"p":3,"s":"L","x":5.9,"y":2.95},{"p":3,"s":"L","x":6.1,"y":3.1},{"p":3,"s":"L","x":6.3,"y":3.2},{"p":3,"s":"L","x":6.5,"y":3.3},{"p":3,"s":"L","x":6.7,"y":3.39},{"p":3,"s":"L","x":6.9,"y":3.28},{"p":3,"s":"L","x":7.1,"y":3.2},{"p":3,"s":"L","x":7.3,"y":3.17},{"p":3,"s":"L","x":7.5,"y":3.25},{"p":3,"s":"L","x":7.7,"y":3.35},{"p":3,"s":"L","x":7.9,"y":3.46},{"p":3,"s":"L","x":8.1,"y":3.55},{"p":3,"s":"L","x":8.3,"y":3.68},{"p":3,"s":"L","x":8.5,"y":3.75},{"p":3,"s":"L","x":8.7,"y":3.78},{"p":3,"s":"L","x":8.9,"y":3.72},{"p":3,"s":"L","x":9.1,"y":3.62},{"p":3,"s":"L","x":9.3,"y":3.53},{"p":3,"s":"L","x":9.5,"y":3.5},{"p":3,"s":"L","x":9.7,"y":3.48},{"p":3,"s":"L","x":9.9,"y":3.53},
{"p":3,"s":"L","x":-6.2,"y":1.06},{"p":3,"s":"L","x":-5.9,"y":1.07},{"p":3,"s":"L","x":-5.6,"y":1.06},{"p":3,"s":"L","x":-5.3,"y":1.05},{"p":3,"s":"L","x":-5,"y":1.06},{"p":3,"s":"L","x":-4.7,"y":1.07},{"p":3,"s":"L","x":-4.4,"y":1.06},{"p":3,"s":"L","x":-4.1,"y":1.05},{"p":3,"s":"L","x":-3.8,"y":1.06},{"p":3,"s":"L","x":-3.5,"y":1.07},{"p":3,"s":"L","x":-3.2,"y":1.06},{"p":3,"s":"L","x":-2.9,"y":1.05},{"p":3,"s":"L","x":-2.6,"y":1.06},{"p":3,"s":"L","x":-2.3,"y":1.07},{"p":3,"s":"L","x":-2,"y":1.06},{"p":3,"s":"L","x":-1.7,"y":1.05},{"p":3,"s":"L","x":-1.4,"y":1.06},{"p":3,"s":"L","x":-1.1,"y":1.07},{"p":3,"s":"L","x":-0.8,"y":1.06},{"p":3,"s":"L","x":-0.5,"y":1.05},
{"p":3,"s":"E","x":-8.3,"y":1.15},{"p":3,"s":"E","x":-8.2,"y":1.05},{"p":3,"s":"E","x":-8,"y":1.0},{"p":3,"s":"E","x":-7.9,"y":1.1},{"p":3,"s":"E","x":-7.7,"y":1.25},{"p":3,"s":"E","x":-7.6,"y":0.95},{"p":3,"s":"E","x":-7.4,"y":1.05},{"p":3,"s":"E","x":-7.2,"y":1.0},{"p":3,"s":"E","x":-7.9,"y":1.94},{"p":3,"s":"E","x":-6.3,"y":1.85},{"p":3,"s":"E","x":-5,"y":0.6},{"p":3,"s":"E","x":-4.7,"y":0.5},{"p":3,"s":"E","x":-4.4,"y":0.55},{"p":3,"s":"E","x":-4.1,"y":0.62},{"p":3,"s":"E","x":-3.8,"y":0.48},{"p":3,"s":"E","x":-3.5,"y":0.58},{"p":3,"s":"E","x":-3.2,"y":0.65},{"p":3,"s":"E","x":-2.9,"y":0.55},{"p":3,"s":"E","x":-2.6,"y":0.7},{"p":3,"s":"E","x":-2.3,"y":0.62},{"p":3,"s":"E","x":-2,"y":0.7},{"p":3,"s":"E","x":-1.7,"y":0.75},{"p":3,"s":"E","x":-4.6,"y":0.68},{"p":3,"s":"E","x":-3.3,"y":0.5},{"p":3,"s":"E","x":-1.5,"y":1.6},{"p":3,"s":"E","x":-1.2,"y":1.9},{"p":3,"s":"E","x":-0.9,"y":1.35},{"p":3,"s":"E","x":-0.6,"y":1.7},{"p":3,"s":"E","x":-0.3,"y":2.0},{"p":3,"s":"E","x":0,"y":1.8},{"p":3,"s":"E","x":0.2,"y":1.55},{"p":3,"s":"E","x":0.4,"y":1.95},{"p":3,"s":"E","x":0.6,"y":1.7},{"p":3,"s":"E","x":0.8,"y":1.9},{"p":3,"s":"E","x":1,"y":2.0},{"p":3,"s":"E","x":1.2,"y":1.95},{"p":3,"s":"E","x":-0.1,"y":1.2},{"p":3,"s":"E","x":0.9,"y":1.15},{"p":3,"s":"E","x":1.1,"y":1.5},{"p":3,"s":"E","x":-0.5,"y":1.25},
{"p":3,"s":"H","x":-8,"y":2.18},{"p":3,"s":"H","x":-5.6,"y":2.18},{"p":3,"s":"H","x":-5.35,"y":2.18},{"p":3,"s":"H","x":-5.1,"y":2.17},{"p":3,"s":"H","x":-4.85,"y":2.18},{"p":3,"s":"H","x":-4.6,"y":2.18},{"p":3,"s":"H","x":-4.35,"y":2.17},{"p":3,"s":"H","x":-4.1,"y":2.18},{"p":3,"s":"H","x":-3.85,"y":2.18},{"p":3,"s":"H","x":-3.6,"y":2.17},{"p":3,"s":"H","x":-3.35,"y":2.18},{"p":3,"s":"H","x":-3.1,"y":2.18},{"p":3,"s":"H","x":-2.85,"y":2.17},{"p":3,"s":"H","x":-2.6,"y":2.18},{"p":3,"s":"H","x":-2.35,"y":2.18},{"p":3,"s":"H","x":-2.1,"y":2.17},{"p":3,"s":"H","x":-1.85,"y":2.18},{"p":3,"s":"H","x":-1.6,"y":2.18},{"p":3,"s":"H","x":-1.35,"y":2.17},{"p":3,"s":"H","x":-1.1,"y":2.18},{"p":3,"s":"H","x":-0.85,"y":2.18},{"p":3,"s":"H","x":-0.6,"y":2.17},{"p":3,"s":"H","x":-5.5,"y":2.1},{"p":3,"s":"H","x":-4.5,"y":2.08},{"p":3,"s":"H","x":-3.5,"y":2.1},{"p":3,"s":"H","x":-2.5,"y":2.05},{"p":3,"s":"H","x":-5.5,"y":1.95},{"p":3,"s":"H","x":-4.5,"y":2.0},{"p":3,"s":"H","x":-3,"y":1.95},{"p":3,"s":"H","x":-2,"y":2.05},
{"p":3,"s":"H","x":-7.7,"y":2.1},{"p":3,"s":"H","x":-7.6,"y":1.95},{"p":3,"s":"H","x":-7.7,"y":1.8},{"p":3,"s":"H","x":-7.5,"y":1.65},{"p":3,"s":"H","x":-7.6,"y":1.5},{"p":3,"s":"H","x":-7.4,"y":1.35},{"p":3,"s":"H","x":-7.5,"y":1.2},{"p":3,"s":"H","x":-1.4,"y":2.05},{"p":3,"s":"H","x":-1.5,"y":1.9},{"p":3,"s":"H","x":-1.4,"y":1.75},{"p":3,"s":"H","x":-1.3,"y":1.6},{"p":3,"s":"H","x":-1.4,"y":1.45},{"p":3,"s":"H","x":-1.2,"y":2.1},{"p":3,"s":"H","x":-1.1,"y":1.7},
{"p":3,"s":"H","x":-8,"y":1.25},{"p":3,"s":"H","x":-7.7,"y":1.35},{"p":3,"s":"H","x":-7.5,"y":1.2},{"p":3,"s":"H","x":-7.2,"y":1.3},{"p":3,"s":"H","x":-7,"y":1.15},{"p":3,"s":"H","x":-6.8,"y":1.25},{"p":3,"s":"H","x":-6.6,"y":1.1},{"p":3,"s":"H","x":-6.5,"y":0.95},{"p":3,"s":"H","x":-6.2,"y":1.0},{"p":3,"s":"H","x":-6,"y":0.85},{"p":3,"s":"H","x":-5.8,"y":0.95},{"p":3,"s":"H","x":-5.6,"y":0.8},{"p":3,"s":"H","x":-5.3,"y":0.85},{"p":3,"s":"H","x":-5,"y":0.75},{"p":3,"s":"H","x":-4.8,"y":0.9},{"p":3,"s":"H","x":-4.5,"y":0.8},{"p":3,"s":"H","x":-4.2,"y":0.72},{"p":3,"s":"H","x":-4,"y":0.85},{"p":3,"s":"H","x":-3.8,"y":0.75},{"p":3,"s":"H","x":-3.5,"y":0.7},{"p":3,"s":"H","x":-3.2,"y":0.8},{"p":3,"s":"H","x":-3,"y":0.85},{"p":3,"s":"H","x":-2.7,"y":0.95},{"p":3,"s":"H","x":-2.4,"y":0.9},{"p":3,"s":"H","x":-2,"y":1.0},{"p":3,"s":"H","x":-1.7,"y":0.95},{"p":3,"s":"H","x":-1.3,"y":1.05},{"p":3,"s":"H","x":-1,"y":1.1},
{"p":3,"s":"D","x":-7.8,"y":1.31},{"p":3,"s":"D","x":-7.5,"y":1.2},{"p":3,"s":"D","x":-7.2,"y":1.25},{"p":3,"s":"D","x":-6.9,"y":1.24},{"p":3,"s":"D","x":-6.5,"y":1.1},{"p":3,"s":"D","x":-6,"y":1.02},{"p":3,"s":"D","x":-5.5,"y":0.9},{"p":3,"s":"D","x":-5.2,"y":0.85},{"p":3,"s":"D","x":-4.8,"y":0.95},{"p":3,"s":"D","x":-4.4,"y":0.8},{"p":3,"s":"D","x":-3.9,"y":0.95},{"p":3,"s":"D","x":-3.6,"y":0.8},{"p":3,"s":"D","x":-3,"y":1.02},{"p":3,"s":"D","x":-2.6,"y":0.85},{"p":3,"s":"D","x":-2.2,"y":0.88},{"p":3,"s":"D","x":-1.8,"y":0.95},{"p":3,"s":"D","x":-1.4,"y":0.95},{"p":3,"s":"D","x":0.2,"y":1.31},{"p":3,"s":"D","x":0.4,"y":1.25},
{"p":3,"s":"I","x":-14.3,"y":4.05},{"p":3,"s":"I","x":-13.1,"y":3.94},{"p":3,"s":"I","x":-12.7,"y":3.6},{"p":3,"s":"I","x":-12.3,"y":3.17},{"p":3,"s":"I","x":-11.8,"y":2.79},{"p":3,"s":"I","x":-11,"y":2.53},{"p":3,"s":"I","x":-10.5,"y":2.36},{"p":3,"s":"I","x":-10,"y":2.22},{"p":3,"s":"I","x":-9.5,"y":2.18},{"p":3,"s":"I","x":-8.9,"y":2.18},{"p":3,"s":"I","x":-8.2,"y":1.15},{"p":3,"s":"I","x":-7.9,"y":1.15},{"p":3,"s":"I","x":-6.6,"y":1.02},{"p":3,"s":"I","x":-6,"y":0.83},{"p":3,"s":"I","x":-5.3,"y":0.74},{"p":3,"s":"I","x":-4.7,"y":0.77},{"p":3,"s":"I","x":-3.8,"y":0.74},{"p":3,"s":"I","x":-3.1,"y":0.74},{"p":3,"s":"I","x":-2.5,"y":0.8},{"p":3,"s":"I","x":-1.9,"y":0.88},{"p":3,"s":"I","x":-1.4,"y":0.85},{"p":3,"s":"I","x":-0.6,"y":1.04},{"p":3,"s":"I","x":0,"y":1.1},{"p":3,"s":"I","x":0.5,"y":1.2},{"p":3,"s":"I","x":1.3,"y":1.28},{"p":3,"s":"I","x":2,"y":1.45},{"p":3,"s":"I","x":3.4,"y":1.38},{"p":3,"s":"I","x":3.5,"y":1.58},{"p":3,"s":"I","x":3.9,"y":1.49},{"p":3,"s":"I","x":4.4,"y":1.91},{"p":3,"s":"I","x":5,"y":1.96},{"p":3,"s":"I","x":5.5,"y":2.03},{"p":3,"s":"I","x":6.1,"y":2.18},{"p":3,"s":"I","x":6.6,"y":2.33},{"p":3,"s":"I","x":7,"y":2.64},{"p":3,"s":"I","x":7.6,"y":2.92},{"p":3,"s":"I","x":8.2,"y":3.07},{"p":3,"s":"I","x":9.3,"y":3.05},{"p":3,"s":"I","x":9.9,"y":3.09},
{"p":3,"s":"W","x":-15,"x2":10,"y":2.5},
{"p":4,"s":"L","x":-19.7,"y":5.0},{"p":4,"s":"L","x":-19.4,"y":4.93},{"p":4,"s":"L","x":-19.2,"y":4.88},{"p":4,"s":"L","x":-18.9,"y":4.8},{"p":4,"s":"L","x":-18.7,"y":4.72},{"p":4,"s":"L","x":-18.4,"y":4.66},{"p":4,"s":"L","x":-18.2,"y":4.6},{"p":4,"s":"L","x":-18,"y":4.5},{"p":4,"s":"L","x":-17.9,"y":4.45},{"p":4,"s":"L","x":-17.8,"y":4.3},{"p":4,"s":"L","x":-17.7,"y":4.15},{"p":4,"s":"L","x":-17.6,"y":4.01},{"p":4,"s":"L","x":-17.5,"y":3.85},{"p":4,"s":"L","x":-17.4,"y":3.7},{"p":4,"s":"L","x":-17.3,"y":3.6},{"p":4,"s":"L","x":-17.2,"y":3.54},{"p":4,"s":"L","x":-17,"y":3.5},{"p":4,"s":"L","x":-16.8,"y":3.46},{"p":4,"s":"L","x":-16.5,"y":3.42},{"p":4,"s":"L","x":-16.1,"y":3.38},{"p":4,"s":"L","x":-15.8,"y":3.33},{"p":4,"s":"L","x":-15.4,"y":3.26},{"p":4,"s":"L","x":-15,"y":3.18},{"p":4,"s":"L","x":-14.6,"y":3.1},{"p":4,"s":"L","x":-14.3,"y":3.0},{"p":4,"s":"L","x":-13.9,"y":2.87},{"p":4,"s":"L","x":-13.7,"y":2.78},{"p":4,"s":"L","x":-13.5,"y":2.67},{"p":4,"s":"L","x":-13.2,"y":2.55},{"p":4,"s":"L","x":-13,"y":2.43},{"p":4,"s":"L","x":-12.8,"y":2.3},{"p":4,"s":"L","x":-12.6,"y":2.2},{"p":4,"s":"L","x":-12.4,"y":2.05},{"p":4,"s":"L","x":-12.3,"y":1.96},{"p":4,"s":"L","x":-12,"y":1.85},{"p":4,"s":"L","x":-11.8,"y":1.76},{"p":4,"s":"L","x":-11.5,"y":1.7},{"p":4,"s":"L","x":-11.3,"y":1.68},{"p":4,"s":"L","x":-10.9,"y":1.88},
{"p":4,"s":"L","x":0,"y":1.88},{"p":4,"s":"L","x":0.3,"y":1.85},{"p":4,"s":"L","x":0.6,"y":1.9},{"p":4,"s":"L","x":0.9,"y":1.87},{"p":4,"s":"L","x":1.2,"y":1.86},{"p":4,"s":"L","x":1.6,"y":1.88},{"p":4,"s":"L","x":2,"y":1.9},{"p":4,"s":"L","x":2.8,"y":2.0},{"p":4,"s":"L","x":4.5,"y":1.88},{"p":4,"s":"L","x":5,"y":2.31},{"p":4,"s":"L","x":5.1,"y":2.2},{"p":4,"s":"L","x":5.2,"y":2.35},{"p":4,"s":"L","x":5.1,"y":2.05},{"p":4,"s":"L","x":5,"y":1.95},{"p":4,"s":"L","x":5.4,"y":2.25},{"p":4,"s":"L","x":5.7,"y":1.96},{"p":4,"s":"L","x":6,"y":2.0},{"p":4,"s":"L","x":6.4,"y":2.08},{"p":4,"s":"L","x":6.7,"y":2.05},{"p":4,"s":"L","x":7.1,"y":2.12},{"p":4,"s":"L","x":7.4,"y":2.06},{"p":4,"s":"L","x":7.8,"y":2.04},{"p":4,"s":"L","x":8.1,"y":2.1},{"p":4,"s":"L","x":8.5,"y":2.08},{"p":4,"s":"L","x":8.8,"y":2.02},{"p":4,"s":"L","x":9.2,"y":2.0},{"p":4,"s":"L","x":9.6,"y":1.98},{"p":4,"s":"L","x":10,"y":1.96},{"p":4,"s":"L","x":10.4,"y":1.88},{"p":4,"s":"L","x":10.8,"y":1.8},{"p":4,"s":"L","x":11.2,"y":1.92},{"p":4,"s":"L","x":11.5,"y":2.2},{"p":4,"s":"L","x":11.7,"y":2.32},{"p":4,"s":"L","x":11.9,"y":2.39},{"p":4,"s":"L","x":12.1,"y":2.45},{"p":4,"s":"L","x":12.3,"y":2.51},{"p":4,"s":"L","x":12.6,"y":2.6},{"p":4,"s":"L","x":12.8,"y":2.67},{"p":4,"s":"L","x":13.1,"y":2.78},{"p":4,"s":"L","x":13.3,"y":2.87},{"p":4,"s":"L","x":13.6,"y":2.94},{"p":4,"s":"L","x":13.8,"y":2.99},{"p":4,"s":"L","x":14.2,"y":3.05},{"p":4,"s":"L","x":14.5,"y":3.1},{"p":4,"s":"L","x":15,"y":3.16},{"p":4,"s":"L","x":15.5,"y":3.22},{"p":4,"s":"L","x":16,"y":3.3},{"p":4,"s":"L","x":16.4,"y":3.38},{"p":4,"s":"L","x":16.9,"y":3.44},{"p":4,"s":"L","x":17.4,"y":3.5},{"p":4,"s":"L","x":17.9,"y":3.55},{"p":4,"s":"L","x":18.3,"y":3.58},{"p":4,"s":"L","x":18.8,"y":3.63},{"p":4,"s":"L","x":19.3,"y":3.66},{"p":4,"s":"L","x":19.7,"y":3.7},{"p":4,"s":"L","x":20,"y":3.74},
{"p":4,"s":"E","x":-12,"y":1.92},{"p":4,"s":"E","x":-11.8,"y":1.8},{"p":4,"s":"E","x":-11.5,"y":1.72},{"p":4,"s":"E","x":-11.3,"y":1.64},{"p":4,"s":"E","x":-11,"y":1.5},{"p":4,"s":"E","x":-10.6,"y":0.85},{"p":4,"s":"E","x":-10.3,"y":0.7},{"p":4,"s":"E","x":-9.9,"y":0.46},{"p":4,"s":"E","x":-6,"y":0.54},{"p":4,"s":"E","x":-4.6,"y":0.5},{"p":4,"s":"E","x":-3.7,"y":0.14},{"p":4,"s":"E","x":-3,"y":0.05},{"p":4,"s":"E","x":-2,"y":-0.02},{"p":4,"s":"E","x":-1,"y":-0.05},{"p":4,"s":"E","x":-0.3,"y":1.92},{"p":4,"s":"E","x":0.2,"y":1.95},{"p":4,"s":"E","x":1.1,"y":2.0},{"p":4,"s":"E","x":1.6,"y":1.9},{"p":4,"s":"E","x":3.5,"y":0.38},{"p":4,"s":"E","x":3.7,"y":0.35},{"p":4,"s":"E","x":-1.5,"y":0.0},{"p":4,"s":"E","x":2.5,"y":0.0},
{"p":4,"s":"H","x":-12,"y":1.56},{"p":4,"s":"H","x":-11.6,"y":1.58},{"p":4,"s":"H","x":-11.3,"y":1.6},{"p":4,"s":"H","x":-11,"y":1.55},{"p":4,"s":"H","x":-10.6,"y":1.52},{"p":4,"s":"H","x":-10.3,"y":1.5},{"p":4,"s":"H","x":-9.9,"y":1.56},{"p":4,"s":"H","x":-9.6,"y":1.45},{"p":4,"s":"H","x":-10,"y":1.35},{"p":4,"s":"H","x":-10.3,"y":1.2},{"p":4,"s":"H","x":-10.5,"y":1.05},{"p":4,"s":"H","x":-10.3,"y":0.93},{"p":4,"s":"H","x":-10,"y":0.9},{"p":4,"s":"H","x":-9.7,"y":0.95},{"p":4,"s":"H","x":-9.4,"y":0.89},{"p":4,"s":"H","x":-9,"y":0.9},{"p":4,"s":"H","x":-8.7,"y":0.87},{"p":4,"s":"H","x":-8.4,"y":0.85},{"p":4,"s":"H","x":-8,"y":0.9},{"p":4,"s":"H","x":-7.8,"y":0.82},{"p":4,"s":"H","x":-7.5,"y":0.81},{"p":4,"s":"H","x":-7.2,"y":0.85},{"p":4,"s":"H","x":-7,"y":1.09},{"p":4,"s":"H","x":-6.8,"y":0.95},{"p":4,"s":"H","x":-6.5,"y":0.73},{"p":4,"s":"H","x":-6.2,"y":0.7},{"p":4,"s":"H","x":-5.8,"y":0.62},{"p":4,"s":"H","x":-5.5,"y":0.58},{"p":4,"s":"H","x":-5.1,"y":0.46},{"p":4,"s":"H","x":-4.8,"y":0.38},{"p":4,"s":"H","x":-4.4,"y":0.3},{"p":4,"s":"H","x":-4,"y":0.22},{"p":4,"s":"H","x":-3.7,"y":0.14},{"p":4,"s":"H","x":-3.3,"y":0.1},{"p":4,"s":"H","x":-2.7,"y":0.06},{"p":4,"s":"H","x":-2.3,"y":0.04},{"p":4,"s":"H","x":-2,"y":0.05},{"p":4,"s":"H","x":-1.5,"y":0.03},{"p":4,"s":"H","x":-1,"y":0.02},{"p":4,"s":"H","x":-0.5,"y":0.03},{"p":4,"s":"H","x":0.2,"y":0.02},{"p":4,"s":"H","x":0.6,"y":0.04},{"p":4,"s":"H","x":1,"y":0.02},{"p":4,"s":"H","x":1.6,"y":0.04},{"p":4,"s":"H","x":2,"y":0.05},{"p":4,"s":"H","x":2.5,"y":0.08},{"p":4,"s":"H","x":3,"y":0.1},{"p":4,"s":"H","x":3.4,"y":0.14},{"p":4,"s":"H","x":3.7,"y":0.18},{"p":4,"s":"H","x":4,"y":0.26},{"p":4,"s":"H","x":4.1,"y":0.46},{"p":4,"s":"H","x":4.2,"y":0.65},{"p":4,"s":"H","x":4.25,"y":0.85},{"p":4,"s":"H","x":4.3,"y":1.05},{"p":4,"s":"H","x":4.3,"y":1.25},{"p":4,"s":"H","x":4.4,"y":1.48},{"p":4,"s":"H","x":4.1,"y":1.6},{"p":4,"s":"H","x":-2.7,"y":1.58},{"p":4,"s":"H","x":-7.1,"y":1.13},{"p":4,"s":"H","x":-9,"y":0.75},{"p":4,"s":"H","x":-8,"y":0.7},{"p":4,"s":"H","x":-7,"y":0.65},{"p":4,"s":"H","x":-9.5,"y":0.8},{"p":4,"s":"H","x":-10,"y":0.8},{"p":4,"s":"H","x":-8.5,"y":1.0},{"p":4,"s":"H","x":-7.5,"y":0.95},{"p":4,"s":"H","x":-6,"y":0.8},{"p":4,"s":"H","x":-5,"y":0.55},
{"p":4,"s":"D","x":-10.3,"y":0.54},{"p":4,"s":"D","x":-9.8,"y":0.52},{"p":4,"s":"D","x":-9.4,"y":0.5},{"p":4,"s":"D","x":-8,"y":0.34},{"p":4,"s":"D","x":-6.3,"y":0.28},{"p":4,"s":"D","x":-4,"y":0.05},{"p":4,"s":"D","x":-2.5,"y":-0.05},{"p":4,"s":"D","x":3,"y":-0.05},{"p":4,"s":"D","x":4,"y":-0.1},{"p":4,"s":"D","x":4.5,"y":-0.06},{"p":4,"s":"D","x":4.2,"y":-0.02},{"p":4,"s":"D","x":-10.9,"y":1.35},
{"p":4,"s":"I","x":-20,"y":4.8},{"p":4,"s":"I","x":-18.6,"y":4.49},{"p":4,"s":"I","x":-17.9,"y":4.25},{"p":4,"s":"I","x":-17.2,"y":3.52},{"p":4,"s":"I","x":-16.4,"y":3.4},{"p":4,"s":"I","x":-15.6,"y":3.28},{"p":4,"s":"I","x":-14.8,"y":3.13},{"p":4,"s":"I","x":-14,"y":2.9},{"p":4,"s":"I","x":-13.3,"y":2.58},{"p":4,"s":"I","x":-12.7,"y":2.25},{"p":4,"s":"I","x":-12.1,"y":1.88},{"p":4,"s":"I","x":-11.4,"y":1.62},{"p":4,"s":"I","x":-10.9,"y":1.45},{"p":4,"s":"I","x":-10.8,"y":1.29},{"p":4,"s":"I","x":-10.6,"y":0.77},{"p":4,"s":"I","x":-10.1,"y":0.62},{"p":4,"s":"I","x":-9.4,"y":0.54},{"p":4,"s":"I","x":-8.4,"y":0.46},{"p":4,"s":"I","x":-7.5,"y":0.34},{"p":4,"s":"I","x":-6.8,"y":0.26},{"p":4,"s":"I","x":-6.3,"y":0.34},{"p":4,"s":"I","x":-5.7,"y":0.42},{"p":4,"s":"I","x":-5.1,"y":0.18},{"p":4,"s":"I","x":-4.4,"y":0.1},{"p":4,"s":"I","x":-3.7,"y":0.02},{"p":4,"s":"I","x":-2.7,"y":-0.06},{"p":4,"s":"I","x":-2.2,"y":-0.1},{"p":4,"s":"I","x":-1.7,"y":-0.13},{"p":4,"s":"I","x":-1.2,"y":-0.15},{"p":4,"s":"I","x":-0.8,"y":-0.17},{"p":4,"s":"I","x":-0.3,"y":-0.18},{"p":4,"s":"I","x":0.2,"y":-0.19},{"p":4,"s":"I","x":0.6,"y":-0.19},{"p":4,"s":"I","x":0.9,"y":-0.19},{"p":4,"s":"I","x":1.4,"y":-0.29},{"p":4,"s":"I","x":1.8,"y":-0.25},{"p":4,"s":"I","x":2.1,"y":-0.21},{"p":4,"s":"I","x":2.8,"y":-0.13},{"p":4,"s":"I","x":3.5,"y":-0.06},{"p":4,"s":"I","x":4,"y":0.0},{"p":4,"s":"I","x":4.5,"y":0.06},{"p":4,"s":"I","x":5,"y":0.1},{"p":4,"s":"I","x":5.4,"y":0.13},{"p":4,"s":"I","x":6.1,"y":0.18},{"p":4,"s":"I","x":6.6,"y":0.24},{"p":4,"s":"I","x":7.2,"y":0.3},{"p":4,"s":"I","x":7.1,"y":0.5},{"p":4,"s":"I","x":8.3,"y":1.25},{"p":4,"s":"I","x":8.8,"y":1.33},{"p":4,"s":"I","x":9.2,"y":1.41},{"p":4,"s":"I","x":9.7,"y":1.53},{"p":4,"s":"I","x":10.3,"y":1.6},{"p":4,"s":"I","x":10.7,"y":1.68},{"p":4,"s":"I","x":11.2,"y":1.96},{"p":4,"s":"I","x":11.5,"y":2.2},{"p":4,"s":"I","x":12,"y":2.4},{"p":4,"s":"I","x":12.5,"y":2.55},{"p":4,"s":"I","x":13,"y":2.75},{"p":4,"s":"I","x":14,"y":3.0},{"p":4,"s":"I","x":15,"y":3.15},{"p":4,"s":"I","x":16,"y":3.28},{"p":4,"s":"I","x":17,"y":3.42},{"p":4,"s":"I","x":18,"y":3.52},{"p":4,"s":"I","x":19,"y":3.62},
{"p":4,"s":"W","x":-20,"x2":20,"y":2.46},
{"p":5,"s":"L","x":-22.8,"y":4.34},{"p":5,"s":"L","x":-22.4,"y":4.5},{"p":5,"s":"L","x":-22.1,"y":4.67},{"p":5,"s":"L","x":-21.8,"y":4.78},{"p":5,"s":"L","x":-21.4,"y":4.91},{"p":5,"s":"L","x":-21,"y":5.05},{"p":5,"s":"L","x":-20.7,"y":5.19},{"p":5,"s":"L","x":-20.3,"y":5.22},{"p":5,"s":"L","x":-20,"y":5.23},{"p":5,"s":"L","x":-19.6,"y":5.2},{"p":5,"s":"L","x":-19.2,"y":5.22},{"p":5,"s":"L","x":-18.9,"y":5.19},{"p":5,"s":"L","x":-18.6,"y":5.12},{"p":5,"s":"L","x":-18.4,"y":5.05},{"p":5,"s":"L","x":-18.2,"y":4.9},{"p":5,"s":"L","x":-18,"y":4.77},{"p":5,"s":"L","x":-17.8,"y":4.6},{"p":5,"s":"L","x":-17.5,"y":4.39},{"p":5,"s":"L","x":-17.2,"y":4.32},{"p":5,"s":"L","x":-16.8,"y":4.25},{"p":5,"s":"L","x":-16.4,"y":4.17},{"p":5,"s":"L","x":-16.1,"y":4.11},{"p":5,"s":"L","x":-15.6,"y":4.02},{"p":5,"s":"L","x":-15,"y":3.92},{"p":5,"s":"L","x":-14.6,"y":3.88},{"p":5,"s":"L","x":-14.3,"y":3.85},{"p":5,"s":"L","x":-14,"y":3.74},{"p":5,"s":"L","x":-13.7,"y":3.64},{"p":5,"s":"L","x":-13.4,"y":3.52},{"p":5,"s":"L","x":-13.2,"y":3.41},{"p":5,"s":"L","x":-12.8,"y":3.22},{"p":5,"s":"L","x":-12.5,"y":3.08},{"p":5,"s":"L","x":-12.1,"y":2.92},{"p":5,"s":"L","x":-11.8,"y":2.8},{"p":5,"s":"L","x":-11.4,"y":2.64},{"p":5,"s":"L","x":-11.1,"y":2.52},{"p":5,"s":"L","x":-10.8,"y":2.38},{"p":5,"s":"L","x":-10.6,"y":2.28},{"p":5,"s":"L","x":-10.3,"y":2.15},{"p":5,"s":"L","x":-10.1,"y":2.05},{"p":5,"s":"L","x":-9.7,"y":1.98},{"p":5,"s":"L","x":-9.3,"y":1.95},{"p":5,"s":"L","x":-8.8,"y":1.93},{"p":5,"s":"L","x":-8.3,"y":1.91},{"p":5,"s":"L","x":-7.9,"y":1.88},{"p":5,"s":"L","x":-7.6,"y":1.86},
{"p":5,"s":"L","x":-7.6,"y":2.52},{"p":5,"s":"L","x":-7.2,"y":2.66},{"p":5,"s":"L","x":-6.8,"y":2.6},{"p":5,"s":"L","x":-6.4,"y":2.62},{"p":5,"s":"L","x":-6,"y":2.58},{"p":5,"s":"L","x":-5.6,"y":2.6},{"p":5,"s":"L","x":-5.2,"y":2.63},{"p":5,"s":"L","x":-4.8,"y":2.6},{"p":5,"s":"L","x":-4.4,"y":2.62},{"p":5,"s":"L","x":-4,"y":2.58},{"p":5,"s":"L","x":-3.6,"y":2.6},{"p":5,"s":"L","x":-3.2,"y":2.64},{"p":5,"s":"L","x":-2.8,"y":2.6},{"p":5,"s":"L","x":-2.4,"y":2.62},{"p":5,"s":"L","x":-2,"y":2.6},{"p":5,"s":"L","x":-1.6,"y":2.63},{"p":5,"s":"L","x":-1.2,"y":2.61},{"p":5,"s":"L","x":-0.8,"y":2.6},{"p":5,"s":"L","x":-0.4,"y":2.62},{"p":5,"s":"L","x":0,"y":2.6},{"p":5,"s":"L","x":0.4,"y":2.62},{"p":5,"s":"L","x":0.8,"y":2.6},{"p":5,"s":"L","x":1.2,"y":2.63},{"p":5,"s":"L","x":1.6,"y":2.61},{"p":5,"s":"L","x":2,"y":2.6},{"p":5,"s":"L","x":2.4,"y":2.62},{"p":5,"s":"L","x":2.7,"y":2.58},
{"p":5,"s":"L","x":6.5,"y":2.0},{"p":5,"s":"L","x":6.8,"y":1.9},{"p":5,"s":"L","x":7.1,"y":1.95},{"p":5,"s":"L","x":7.4,"y":1.8},{"p":5,"s":"L","x":7.6,"y":1.86},{"p":5,"s":"L","x":8,"y":1.9},{"p":5,"s":"L","x":8.5,"y":1.88},{"p":5,"s":"L","x":9,"y":1.91},{"p":5,"s":"L","x":9.5,"y":1.87},{"p":5,"s":"L","x":10,"y":1.85},{"p":5,"s":"L","x":10.5,"y":1.86},{"p":5,"s":"L","x":11,"y":1.84},{"p":5,"s":"L","x":11.5,"y":1.85},{"p":5,"s":"L","x":11.9,"y":1.86},{"p":5,"s":"L","x":12.5,"y":1.86},{"p":5,"s":"L","x":13,"y":1.88},{"p":5,"s":"L","x":13.3,"y":1.9},{"p":5,"s":"L","x":13.7,"y":1.95},{"p":5,"s":"L","x":14,"y":2.0},{"p":5,"s":"L","x":14.5,"y":2.07},{"p":5,"s":"L","x":15.1,"y":2.14},{"p":5,"s":"L","x":15.6,"y":2.22},{"p":5,"s":"L","x":16.1,"y":2.33},{"p":5,"s":"L","x":16.5,"y":2.43},{"p":5,"s":"L","x":16.8,"y":2.52},{"p":5,"s":"L","x":17.2,"y":2.62},{"p":5,"s":"L","x":17.6,"y":2.7},{"p":5,"s":"L","x":18,"y":2.76},{"p":5,"s":"L","x":18.3,"y":2.8},{"p":5,"s":"L","x":18.8,"y":2.84},{"p":5,"s":"L","x":19.3,"y":2.87},{"p":5,"s":"L","x":19.8,"y":2.86},{"p":5,"s":"L","x":20.4,"y":2.84},{"p":5,"s":"L","x":20.8,"y":2.82},{"p":5,"s":"L","x":21.1,"y":2.8},{"p":5,"s":"L","x":21.5,"y":2.7},{"p":5,"s":"L","x":21.8,"y":2.61},{"p":5,"s":"L","x":22.2,"y":2.53},{"p":5,"s":"L","x":22.5,"y":2.47},{"p":5,"s":"L","x":22.9,"y":2.43},{"p":5,"s":"L","x":23.2,"y":2.42},{"p":5,"s":"L","x":23.7,"y":2.47},{"p":5,"s":"L","x":24.1,"y":2.52},{"p":5,"s":"L","x":24.5,"y":2.47},{"p":5,"s":"L","x":25,"y":2.42},{"p":5,"s":"L","x":25.4,"y":2.52},{"p":5,"s":"L","x":25.7,"y":2.61},{"p":5,"s":"L","x":26.2,"y":2.66},{"p":5,"s":"L","x":26.8,"y":2.7},{"p":5,"s":"L","x":27.3,"y":2.76},{"p":5,"s":"L","x":27.8,"y":2.8},{"p":5,"s":"L","x":28.3,"y":2.85},{"p":5,"s":"L","x":28.9,"y":2.89},{"p":5,"s":"L","x":29.4,"y":2.92},{"p":5,"s":"L","x":30,"y":2.94},{"p":5,"s":"L","x":30.5,"y":2.9},{"p":5,"s":"L","x":31,"y":2.89},{"p":5,"s":"L","x":31.6,"y":2.92},{"p":5,"s":"L","x":32.1,"y":2.94},{"p":5,"s":"L","x":32.8,"y":2.96},{"p":5,"s":"L","x":33.5,"y":2.98},{"p":5,"s":"L","x":34,"y":3.0},{"p":5,"s":"L","x":34.5,"y":3.03},{"p":5,"s":"L","x":35,"y":3.05},{"p":5,"s":"L","x":35.6,"y":3.08},
{"p":5,"s":"E","x":-10.2,"y":2.0},{"p":5,"s":"E","x":-10,"y":1.9},{"p":5,"s":"E","x":-9.8,"y":1.8},{"p":5,"s":"E","x":-9.6,"y":1.95},{"p":5,"s":"E","x":-9.4,"y":1.75},{"p":5,"s":"E","x":-9.2,"y":1.85},{"p":5,"s":"E","x":-9,"y":1.7},{"p":5,"s":"E","x":-8.8,"y":1.9},{"p":5,"s":"E","x":-8.6,"y":1.8},{"p":5,"s":"E","x":-8.4,"y":1.7},{"p":5,"s":"E","x":-9.6,"y":1.6},{"p":5,"s":"E","x":-9,"y":1.39},{"p":5,"s":"E","x":-8.8,"y":1.2},{"p":5,"s":"E","x":-8.3,"y":1.02},{"p":5,"s":"E","x":-8.1,"y":0.85},{"p":5,"s":"E","x":-7.9,"y":0.64},{"p":5,"s":"E","x":-7.5,"y":0.5},{"p":5,"s":"E","x":-7,"y":0.35},{"p":5,"s":"E","x":-6.5,"y":0.2},{"p":5,"s":"E","x":-6,"y":0.1},{"p":5,"s":"E","x":-5.5,"y":0.0},{"p":5,"s":"E","x":-5,"y":-0.15},{"p":5,"s":"E","x":-4.5,"y":-0.3},{"p":5,"s":"E","x":-4,"y":-0.45},{"p":5,"s":"E","x":-3.5,"y":-0.55},{"p":5,"s":"E","x":-3,"y":-0.6},{"p":5,"s":"E","x":-2.5,"y":-0.65},{"p":5,"s":"E","x":-2,"y":-0.7},{"p":5,"s":"E","x":-1.5,"y":-0.75},{"p":5,"s":"E","x":-1,"y":-0.8},{"p":5,"s":"E","x":-0.5,"y":-0.75},{"p":5,"s":"E","x":0,"y":-0.7},{"p":5,"s":"E","x":0.5,"y":-0.65},{"p":5,"s":"E","x":1,"y":-0.7},{"p":5,"s":"E","x":1.5,"y":-0.6},{"p":5,"s":"E","x":2,"y":-0.65},{"p":5,"s":"E","x":2.5,"y":-0.6},{"p":5,"s":"E","x":3,"y":-0.65},{"p":5,"s":"E","x":3.5,"y":-0.55},{"p":5,"s":"E","x":4,"y":-0.5},{"p":5,"s":"E","x":4.5,"y":-0.4},{"p":5,"s":"E","x":5,"y":-0.25},{"p":5,"s":"E","x":5.5,"y":-0.1},{"p":5,"s":"E","x":6,"y":0.05},{"p":5,"s":"E","x":6.3,"y":0.2},{"p":5,"s":"E","x":6.6,"y":0.4},{"p":5,"s":"E","x":6.8,"y":0.7},{"p":5,"s":"E","x":6.9,"y":0.83},{"p":5,"s":"E","x":6.7,"y":1.1},{"p":5,"s":"E","x":6.6,"y":1.39},{"p":5,"s":"E","x":6.5,"y":1.7},{"p":5,"s":"E","x":6.2,"y":2.05},{"p":5,"s":"E","x":6.4,"y":1.95},{"p":5,"s":"E","x":-3.1,"y":2.14},{"p":5,"s":"E","x":-6,"y":0.0},{"p":5,"s":"E","x":-4.5,"y":-0.5},{"p":5,"s":"E","x":-2,"y":-0.55},{"p":5,"s":"E","x":1.2,"y":-0.5},{"p":5,"s":"E","x":4,"y":-0.6},{"p":5,"s":"E","x":-1,"y":-0.65},
{"p":5,"s":"H","x":-7.5,"y":1.58},{"p":5,"s":"H","x":-6.5,"y":1.58},{"p":5,"s":"H","x":-5,"y":1.58},{"p":5,"s":"H","x":-1.5,"y":1.58},{"p":5,"s":"H","x":-1,"y":1.58},{"p":5,"s":"H","x":3.7,"y":1.58},{"p":5,"s":"H","x":4.5,"y":1.58},{"p":5,"s":"H","x":-7.2,"y":1.45},{"p":5,"s":"H","x":-7.9,"y":0.92},{"p":5,"s":"H","x":-7.5,"y":0.8},{"p":5,"s":"H","x":-7,"y":0.7},{"p":5,"s":"H","x":-6.5,"y":0.64},{"p":5,"s":"H","x":-6,"y":0.6},{"p":5,"s":"H","x":-5.5,"y":0.75},{"p":5,"s":"H","x":-5.1,"y":0.83},{"p":5,"s":"H","x":-4.9,"y":0.65},{"p":5,"s":"H","x":-4.7,"y":0.59},{"p":5,"s":"H","x":-4.5,"y":0.45},{"p":5,"s":"H","x":-4,"y":0.3},{"p":5,"s":"H","x":-3.5,"y":0.1},{"p":5,"s":"H","x":-3,"y":-0.05},{"p":5,"s":"H","x":-2.5,"y":-0.15},{"p":5,"s":"H","x":-2,"y":-0.3},{"p":5,"s":"H","x":-1.5,"y":-0.4},{"p":5,"s":"H","x":-1,"y":-0.35},{"p":5,"s":"H","x":-0.5,"y":-0.25},{"p":5,"s":"H","x":0,"y":-0.2},{"p":5,"s":"H","x":0.5,"y":-0.25},{"p":5,"s":"H","x":0.9,"y":-0.3},{"p":5,"s":"H","x":1.5,"y":-0.35},{"p":5,"s":"H","x":2,"y":-0.4},{"p":5,"s":"H","x":2.5,"y":-0.42},{"p":5,"s":"H","x":3,"y":-0.4},{"p":5,"s":"H","x":3.5,"y":-0.35},{"p":5,"s":"H","x":4,"y":-0.25},{"p":5,"s":"H","x":4.5,"y":0.0},{"p":5,"s":"H","x":5,"y":0.2},{"p":5,"s":"H","x":5.5,"y":0.4},{"p":5,"s":"H","x":5.9,"y":0.6},{"p":5,"s":"H","x":6.2,"y":0.9},{"p":5,"s":"H","x":6.4,"y":1.2},{"p":5,"s":"H","x":6.5,"y":1.45},{"p":5,"s":"H","x":5.9,"y":1.58},{"p":5,"s":"H","x":6.3,"y":1.55},{"p":5,"s":"H","x":-6,"y":0.9},{"p":5,"s":"H","x":-5.6,"y":0.7},{"p":5,"s":"H","x":-8.3,"y":1.5},
{"p":5,"s":"D","x":-8.3,"y":0.78},{"p":5,"s":"D","x":-8,"y":0.6},{"p":5,"s":"D","x":-7.2,"y":0.5},{"p":5,"s":"D","x":-5.1,"y":0.2},{"p":5,"s":"D","x":-3,"y":-0.3},{"p":5,"s":"D","x":-1,"y":-0.55},{"p":5,"s":"D","x":0,"y":-0.55},{"p":5,"s":"D","x":1.5,"y":-0.45},{"p":5,"s":"D","x":3.5,"y":-0.35},{"p":5,"s":"D","x":6.2,"y":0.27},{"p":5,"s":"D","x":6.6,"y":0.4},
{"p":5,"s":"I","x":-22.4,"y":4.34},{"p":5,"s":"I","x":-21,"y":4.67},{"p":5,"s":"I","x":-20,"y":4.81},{"p":5,"s":"I","x":-18.9,"y":4.77},{"p":5,"s":"I","x":-18.2,"y":4.62},{"p":5,"s":"I","x":-17.5,"y":4.39},{"p":5,"s":"I","x":-16.5,"y":4.18},{"p":5,"s":"I","x":-15.5,"y":4.0},{"p":5,"s":"I","x":-14.5,"y":3.85},{"p":5,"s":"I","x":-13.5,"y":3.55},{"p":5,"s":"I","x":-12.6,"y":3.12},{"p":5,"s":"I","x":-11.7,"y":2.75},{"p":5,"s":"I","x":-10.9,"y":2.42},{"p":5,"s":"I","x":-10.2,"y":2.1},{"p":5,"s":"I","x":-9.9,"y":1.53},{"p":5,"s":"I","x":-9.3,"y":1.39},{"p":5,"s":"I","x":-9,"y":1.02},{"p":5,"s":"I","x":-8.6,"y":0.73},{"p":5,"s":"I","x":-7.9,"y":0.55},{"p":5,"s":"I","x":-7.2,"y":0.45},{"p":5,"s":"I","x":-6.5,"y":0.36},{"p":5,"s":"I","x":-5.8,"y":0.27},{"p":5,"s":"I","x":-5.1,"y":0.17},{"p":5,"s":"I","x":-4.4,"y":0.08},{"p":5,"s":"I","x":-3.7,"y":-0.11},{"p":5,"s":"I","x":-3,"y":-0.3},{"p":5,"s":"I","x":-2.3,"y":-0.39},{"p":5,"s":"I","x":-1.6,"y":-0.48},{"p":5,"s":"I","x":-0.8,"y":-0.58},{"p":5,"s":"I","x":0,"y":-0.34},{"p":5,"s":"I","x":0.5,"y":-0.42},{"p":5,"s":"I","x":0.9,"y":-0.48},{"p":5,"s":"I","x":1.5,"y":-0.5},{"p":5,"s":"I","x":2,"y":-0.53},{"p":5,"s":"I","x":2.5,"y":-0.5},{"p":5,"s":"I","x":3,"y":-0.48},{"p":5,"s":"I","x":3.6,"y":-0.44},{"p":5,"s":"I","x":4.1,"y":-0.39},{"p":5,"s":"I","x":4.8,"y":-0.2},{"p":5,"s":"I","x":5.5,"y":-0.02},{"p":5,"s":"I","x":6.2,"y":0.13},{"p":5,"s":"I","x":6.9,"y":0.22},{"p":5,"s":"I","x":7.6,"y":0.36},{"p":5,"s":"I","x":9,"y":1.06},{"p":5,"s":"I","x":9.8,"y":1.2},{"p":5,"s":"I","x":10.8,"y":1.39},{"p":5,"s":"I","x":11.9,"y":1.53},{"p":5,"s":"I","x":13,"y":1.67},{"p":5,"s":"I","x":14,"y":1.81},{"p":5,"s":"I","x":15.1,"y":1.95},{"p":5,"s":"I","x":16.1,"y":2.14},{"p":5,"s":"I","x":17,"y":2.5},{"p":5,"s":"I","x":18,"y":2.75},{"p":5,"s":"I","x":19,"y":2.82},{"p":5,"s":"I","x":20,"y":2.84},{"p":5,"s":"I","x":21,"y":2.78},{"p":5,"s":"I","x":22,"y":2.55},{"p":5,"s":"I","x":23.9,"y":2.33},{"p":5,"s":"I","x":25,"y":2.33},
{"p":5,"s":"W","x":-22.8,"x2":36,"y":2.39},
{"p":6,"s":"L","x":-20,"y":3.56},{"p":6,"s":"L","x":-19.8,"y":3.6},{"p":6,"s":"L","x":-19.5,"y":3.6},{"p":6,"s":"L","x":-19.2,"y":3.57},{"p":6,"s":"L","x":-19,"y":3.53},{"p":6,"s":"L","x":-18.8,"y":3.45},{"p":6,"s":"L","x":-18.6,"y":3.38},{"p":6,"s":"L","x":-18.3,"y":3.3},{"p":6,"s":"L","x":-18.1,"y":3.23},{"p":6,"s":"L","x":-17.8,"y":3.14},{"p":6,"s":"L","x":-17.6,"y":3.05},{"p":6,"s":"L","x":-17.3,"y":2.93},{"p":6,"s":"L","x":-17.1,"y":2.82},{"p":6,"s":"L","x":-16.8,"y":2.7},{"p":6,"s":"L","x":-16.6,"y":2.6},{"p":6,"s":"L","x":-16.4,"y":2.5},{"p":6,"s":"L","x":-16.2,"y":2.38},{"p":6,"s":"L","x":-15.9,"y":2.3},{"p":6,"s":"L","x":-15.7,"y":2.23},{"p":6,"s":"L","x":-15.4,"y":2.18},{"p":6,"s":"L","x":-15.2,"y":2.16},{"p":6,"s":"L","x":-14.9,"y":2.22},{"p":6,"s":"L","x":-14.7,"y":2.27},{"p":6,"s":"L","x":-14.5,"y":2.31},{"p":6,"s":"L","x":-14.3,"y":2.35},{"p":6,"s":"L","x":-13.9,"y":2.39},{"p":6,"s":"L","x":-13.5,"y":2.42},{"p":6,"s":"L","x":-13.1,"y":2.44},{"p":6,"s":"L","x":-12.8,"y":2.46},{"p":6,"s":"L","x":-12.4,"y":2.47},{"p":6,"s":"L","x":-12.1,"y":2.47},{"p":6,"s":"L","x":-11.7,"y":2.47},{"p":6,"s":"L","x":-11.4,"y":2.46},{"p":6,"s":"L","x":-11.1,"y":2.44},{"p":6,"s":"L","x":-10.9,"y":2.42},{"p":6,"s":"L","x":-10.6,"y":2.38},{"p":6,"s":"L","x":-10.4,"y":2.35},{"p":6,"s":"L","x":-10.1,"y":2.28},{"p":6,"s":"L","x":-9.9,"y":2.23},{"p":6,"s":"L","x":-9.7,"y":2.16},{"p":6,"s":"L","x":-9.5,"y":2.09},{"p":6,"s":"L","x":-9.2,"y":2.0},{"p":6,"s":"L","x":-9,"y":1.94},{"p":6,"s":"L","x":-8.7,"y":1.86},{"p":6,"s":"L","x":-8.5,"y":1.79},{"p":6,"s":"L","x":-8.2,"y":1.72},{"p":6,"s":"L","x":-8,"y":1.68},
{"p":6,"s":"L","x":3.2,"y":2.01},{"p":6,"s":"L","x":3.3,"y":1.9},{"p":6,"s":"L","x":3.5,"y":1.85},{"p":6,"s":"L","x":3.8,"y":1.87},{"p":6,"s":"L","x":4.1,"y":1.86},{"p":6,"s":"L","x":4.4,"y":1.88},{"p":6,"s":"L","x":4.7,"y":1.85},{"p":6,"s":"L","x":5,"y":1.87},{"p":6,"s":"L","x":5.3,"y":1.86},{"p":6,"s":"L","x":5.6,"y":1.88},{"p":6,"s":"L","x":5.9,"y":1.87},{"p":6,"s":"L","x":6.2,"y":1.85},{"p":6,"s":"L","x":6.5,"y":1.88},{"p":6,"s":"L","x":6.8,"y":1.87},{"p":6,"s":"L","x":6.9,"y":1.8},
{"p":6,"s":"L","x":7.6,"y":1.76},{"p":6,"s":"L","x":7.9,"y":1.74},{"p":6,"s":"L","x":8.2,"y":1.7},{"p":6,"s":"L","x":8.5,"y":1.68},{"p":6,"s":"L","x":8.8,"y":1.72},{"p":6,"s":"L","x":9,"y":1.79},{"p":6,"s":"L","x":9.3,"y":1.88},{"p":6,"s":"L","x":9.5,"y":1.94},{"p":6,"s":"L","x":9.7,"y":2.1},{"p":6,"s":"L","x":9.8,"y":2.23},{"p":6,"s":"L","x":10,"y":2.42},{"p":6,"s":"L","x":10.2,"y":2.53},{"p":6,"s":"L","x":10.5,"y":2.6},{"p":6,"s":"L","x":10.9,"y":2.68},{"p":6,"s":"L","x":11.2,"y":2.72},{"p":6,"s":"L","x":11.6,"y":2.75},{"p":6,"s":"L","x":12.1,"y":2.8},{"p":6,"s":"L","x":12.6,"y":2.86},{"p":6,"s":"L","x":13,"y":2.93},{"p":6,"s":"L","x":13.5,"y":3.01},{"p":6,"s":"L","x":14,"y":3.06},{"p":6,"s":"L","x":14.5,"y":3.12},{"p":6,"s":"L","x":15,"y":3.17},{"p":6,"s":"L","x":15.4,"y":3.23},{"p":6,"s":"L","x":15.9,"y":3.28},{"p":6,"s":"L","x":16.4,"y":3.34},{"p":6,"s":"L","x":16.9,"y":3.42},{"p":6,"s":"L","x":17.4,"y":3.49},{"p":6,"s":"L","x":17.8,"y":3.56},{"p":6,"s":"L","x":18.3,"y":3.64},{"p":6,"s":"L","x":18.8,"y":3.7},{"p":6,"s":"L","x":19.3,"y":3.75},{"p":6,"s":"L","x":19.7,"y":3.8},{"p":6,"s":"L","x":20,"y":3.86},
{"p":6,"s":"E","x":-8.5,"y":2.05},{"p":6,"s":"E","x":-7.8,"y":2.05},{"p":6,"s":"E","x":-8.3,"y":1.87},{"p":6,"s":"E","x":-8,"y":1.9},{"p":6,"s":"E","x":-7.6,"y":1.85},{"p":6,"s":"E","x":-5.6,"y":0.28},{"p":6,"s":"E","x":-3.7,"y":0.17},{"p":6,"s":"E","x":-2.8,"y":0.2},{"p":6,"s":"E","x":-1.8,"y":0.17},{"p":6,"s":"E","x":-1,"y":0.2},{"p":6,"s":"E","x":1.8,"y":0.24},{"p":6,"s":"E","x":3.5,"y":1.57},{"p":6,"s":"E","x":4,"y":1.5},{"p":6,"s":"E","x":3.7,"y":2.01},{"p":6,"s":"E","x":2.3,"y":0.9},{"p":6,"s":"E","x":2.1,"y":0.95},{"p":6,"s":"E","x":-0.5,"y":0.15},{"p":6,"s":"E","x":0.5,"y":0.2},
{"p":6,"s":"H","x":-7.8,"y":1.35},{"p":6,"s":"H","x":-7.6,"y":1.2},{"p":6,"s":"H","x":-7.3,"y":1.13},{"p":6,"s":"H","x":-7.1,"y":1.05},{"p":6,"s":"H","x":-6.8,"y":0.98},{"p":6,"s":"H","x":-6.5,"y":0.9},{"p":6,"s":"H","x":-6.1,"y":0.83},{"p":6,"s":"H","x":-5.8,"y":0.78},{"p":6,"s":"H","x":-5.4,"y":0.72},{"p":6,"s":"H","x":-5,"y":0.65},{"p":6,"s":"H","x":-4.7,"y":0.61},{"p":6,"s":"H","x":-4.3,"y":0.57},{"p":6,"s":"H","x":-4,"y":0.54},{"p":6,"s":"H","x":-3.6,"y":0.5},{"p":6,"s":"H","x":-3.2,"y":0.46},{"p":6,"s":"H","x":-2.8,"y":0.42},{"p":6,"s":"H","x":-2.3,"y":0.39},{"p":6,"s":"H","x":-1.8,"y":0.36},{"p":6,"s":"H","x":-1.3,"y":0.35},{"p":6,"s":"H","x":-0.9,"y":0.33},{"p":6,"s":"H","x":-0.6,"y":0.32},{"p":6,"s":"H","x":-0.2,"y":0.3},{"p":6,"s":"H","x":0.1,"y":0.28},{"p":6,"s":"H","x":0.5,"y":0.27},{"p":6,"s":"H","x":0.9,"y":0.26},{"p":6,"s":"H","x":1.2,"y":0.3},{"p":6,"s":"H","x":-7,"y":0.85},{"p":6,"s":"H","x":-6.3,"y":0.7},{"p":6,"s":"H","x":-5.6,"y":0.6},{"p":6,"s":"H","x":-5,"y":0.5},{"p":6,"s":"H","x":-4.5,"y":0.45},{"p":6,"s":"H","x":-3.9,"y":0.42},{"p":6,"s":"H","x":-3,"y":0.35},{"p":6,"s":"H","x":-2,"y":0.3},{"p":6,"s":"H","x":-6,"y":1.0},{"p":6,"s":"H","x":-4.5,"y":0.7},{"p":6,"s":"H","x":1.6,"y":0.83},{"p":6,"s":"H","x":1.8,"y":0.7},{"p":6,"s":"H","x":2,"y":0.9},{"p":6,"s":"H","x":2.2,"y":0.6},{"p":6,"s":"H","x":2.5,"y":0.76},{"p":6,"s":"H","x":3.2,"y":1.35},{"p":6,"s":"H","x":3.3,"y":1.1},{"p":6,"s":"H","x":3.5,"y":1.61},{"p":6,"s":"H","x":3.6,"y":1.0},{"p":6,"s":"H","x":3.7,"y":1.2},{"p":6,"s":"H","x":3.8,"y":1.45},{"p":6,"s":"H","x":3.9,"y":1.42},{"p":6,"s":"H","x":3.4,"y":1.55},{"p":6,"s":"H","x":-4.2,"y":1.61},{"p":6,"s":"H","x":-3.5,"y":1.61},{"p":6,"s":"H","x":-2.9,"y":1.61},{"p":6,"s":"H","x":-4,"y":1.46},{"p":6,"s":"H","x":-2.3,"y":1.46},{"p":6,"s":"H","x":-2.5,"y":0.8},{"p":6,"s":"H","x":1.5,"y":1.0},
{"p":6,"s":"D","x":-8,"y":1.5},{"p":6,"s":"D","x":-7.8,"y":1.4},{"p":6,"s":"D","x":-7.1,"y":0.83},{"p":6,"s":"D","x":-6.5,"y":0.6},{"p":6,"s":"D","x":-5.6,"y":0.46},{"p":6,"s":"D","x":-4.5,"y":0.35},{"p":6,"s":"D","x":-3.7,"y":0.32},{"p":6,"s":"D","x":-2.5,"y":0.25},{"p":6,"s":"D","x":-1.8,"y":0.2},{"p":6,"s":"D","x":-0.5,"y":0.2},{"p":6,"s":"D","x":1.1,"y":0.24},{"p":6,"s":"D","x":1.5,"y":0.2},{"p":6,"s":"D","x":2.3,"y":0.68},{"p":6,"s":"D","x":3.7,"y":0.83},{"p":6,"s":"D","x":4,"y":0.78},
{"p":6,"s":"I","x":-19.8,"y":3.19},{"p":6,"s":"I","x":-18.8,"y":2.97},{"p":6,"s":"I","x":-17.8,"y":2.79},{"p":6,"s":"I","x":-17,"y":2.6},{"p":6,"s":"I","x":-16.4,"y":2.42},{"p":6,"s":"I","x":-15.7,"y":2.23},{"p":6,"s":"I","x":-15.2,"y":2.12},{"p":6,"s":"I","x":-14.5,"y":2.28},{"p":6,"s":"I","x":-13.5,"y":2.4},{"p":6,"s":"I","x":-12.5,"y":2.45},{"p":6,"s":"I","x":-11.5,"y":2.45},{"p":6,"s":"I","x":-10.5,"y":2.36},{"p":6,"s":"I","x":-9.5,"y":2.05},{"p":6,"s":"I","x":-8.5,"y":1.75},{"p":6,"s":"I","x":-8,"y":1.57},{"p":6,"s":"I","x":-7.5,"y":1.05},{"p":6,"s":"I","x":-7.1,"y":0.91},{"p":6,"s":"I","x":-6.6,"y":0.76},{"p":6,"s":"I","x":-6.1,"y":0.61},{"p":6,"s":"I","x":-5.6,"y":0.43},{"p":6,"s":"I","x":-4.9,"y":0.32},{"p":6,"s":"I","x":-4.2,"y":0.21},{"p":6,"s":"I","x":-3.5,"y":0.13},{"p":6,"s":"I","x":-2.8,"y":0.17},{"p":6,"s":"I","x":-2,"y":0.24},{"p":6,"s":"I","x":-1.3,"y":0.17},{"p":6,"s":"I","x":-0.6,"y":0.13},{"p":6,"s":"I","x":0.1,"y":0.13},{"p":6,"s":"I","x":0.8,"y":0.17},{"p":6,"s":"I","x":1.6,"y":0.21},{"p":6,"s":"I","x":2.3,"y":0.32},{"p":6,"s":"I","x":3,"y":0.43},{"p":6,"s":"I","x":3.5,"y":0.57},{"p":6,"s":"I","x":4,"y":0.61},{"p":6,"s":"I","x":4.7,"y":0.69},{"p":6,"s":"I","x":5.4,"y":0.76},{"p":6,"s":"I","x":6.1,"y":0.8},{"p":6,"s":"I","x":6.6,"y":1.09},{"p":6,"s":"I","x":7.3,"y":1.28},{"p":6,"s":"I","x":8,"y":1.42},{"p":6,"s":"I","x":8.5,"y":1.57},{"p":6,"s":"I","x":9.2,"y":1.79},{"p":6,"s":"I","x":9.8,"y":2.16},{"p":6,"s":"I","x":10.2,"y":2.31},{"p":6,"s":"I","x":10.8,"y":2.65},{"p":6,"s":"I","x":11.8,"y":2.76},{"p":6,"s":"I","x":12.8,"y":2.9},{"p":6,"s":"I","x":14,"y":3.05},{"p":6,"s":"I","x":15,"y":3.15},{"p":6,"s":"I","x":16,"y":3.3},{"p":6,"s":"I","x":17,"y":3.44},{"p":6,"s":"I","x":18,"y":3.58},{"p":6,"s":"I","x":19,"y":3.72},{"p":6,"s":"I","x":20,"y":3.85},
{"p":6,"s":"W","x":-20,"x2":20,"y":2.31}
]},
"columns":3,"spacing":{"row":48,"column":55},"bounds":"flush",
"concat":[
{"width":279,"height":233,"transform":[{"filter":"datum.p==1"}],
"layer":[
{"transform":[{"filter":"datum.s=='L'||datum.s=='E'||datum.s=='H'||datum.s=='D'"}],"mark":{"type":"point","filled":true,"size":10,"opacity":1},"encoding":{"x":{"field":"x","type":"quantitative","scale":{"domain":[-20,20],"nice":false,"zero":false},"axis":{"values":[-20,-10,0,10,20],"format":"d","title":null}},"y":{"field":"y","type":"quantitative","scale":{"domain":[-1,3],"nice":false,"zero":false},"axis":{"values":[-1,0,1,2,3],"format":"d","title":"River bottom elevation, m"}},"color":{"field":"s","type":"nominal","scale":{"domain":["L","E","H","D","I","W"],"range":["#008000","#bf00bf","#bfbf00","#00bfbf","#000000","#3030d0"]},"legend":{"title":null,"labelExpr":"datum.label=='L'?'M300_Lidar':datum.label=='H'?'Hydrohex_ECT400':datum.label=='I'?'in situ':datum.label=='E'?'M300_ECT400s':datum.label=='D'?'M600_DeeperCHIRPplus':'WSE'"}},"shape":{"field":"s","type":"nominal","scale":{"domain":["L","E","H","D","I","W"],"range":["circle","circle","circle","circle","circle","M-10.2,-0.6H10.2V0.6H-10.2Z"]},"legend":{"title":null,"labelExpr":"datum.label=='L'?'M300_Lidar':datum.label=='H'?'Hydrohex_ECT400':datum.label=='I'?'in situ':datum.label=='E'?'M300_ECT400s':datum.label=='D'?'M600_DeeperCHIRPplus':'WSE'"}}}},
{"transform":[{"filter":"datum.s=='I'"}],"mark":{"type":"point","filled":true,"size":16,"opacity":1},"encoding":{"x":{"field":"x","type":"quantitative","axis":{"values":[-20,-10,0,10,20],"format":"d","title":null}},"y":{"field":"y","type":"quantitative","axis":{"values":[-1,0,1,2,3],"format":"d","title":"River bottom elevation, m"}},"color":{"field":"s","type":"nominal"},"shape":{"field":"s","type":"nominal"}}},
{"transform":[{"filter":"datum.s=='W'"}],"mark":{"type":"rule","strokeWidth":1.6,"color":"#3030d0"},"encoding":{"x":{"field":"x","type":"quantitative","axis":{"values":[-20,-10,0,10,20],"format":"d","title":null}},"x2":{"field":"x2"},"y":{"field":"y","type":"quantitative","axis":{"values":[-1,0,1,2,3],"format":"d","title":"River bottom elevation, m"}}}},
{"transform":[{"filter":"datum.k=='n'"}],"mark":{"type":"text","align":"left","baseline":"alphabetic","fontSize":19,"color":"#262626"},"encoding":{"x":{"datum":-26.9,"type":"quantitative","scale":{"domain":[-20,20],"nice":false,"zero":false},"axis":{"values":[-20,-10,0,10,20],"format":"d","title":null}},"y":{"datum":2.98,"type":"quantitative","scale":{"domain":[-1,3],"nice":false,"zero":false},"axis":{"values":[-1,0,1,2,3],"format":"d","title":"River bottom elevation, m"}},"text":{"field":"t"}}},
{"transform":[{"filter":"datum.k=='h'"}],"mark":{"type":"text","align":"center","baseline":"alphabetic","fontSize":15,"color":"#262626"},"encoding":{"x":{"datum":0,"type":"quantitative","scale":{"domain":[-20,20],"nice":false,"zero":false},"axis":{"values":[-20,-10,0,10,20],"format":"d","title":null}},"y":{"datum":3.112,"type":"quantitative","scale":{"domain":[-1,3],"nice":false,"zero":false},"axis":{"values":[-1,0,1,2,3],"format":"d","title":"River bottom elevation, m"}},"text":{"field":"t"}}}
]},
{"width":279,"height":233,"transform":[{"filter":"datum.p==2"}],
"layer":[
{"transform":[{"filter":"datum.s=='L'||datum.s=='E'||datum.s=='H'||datum.s=='D'"}],"mark":{"type":"point","filled":true,"size":10,"opacity":1},"encoding":{"x":{"field":"x","type":"quantitative","scale":{"domain":[-26,12.4],"nice":false,"zero":false},"axis":{"values":[-20,-10,0,10],"format":"d","title":null}},"y":{"field":"y","type":"quantitative","scale":{"domain":[1.73,4.6],"nice":false,"zero":false},"axis":{"values":[2,2.5,3,3.5,4,4.5],"format":".1f","title":null}},"color":{"field":"s","type":"nominal"},"shape":{"field":"s","type":"nominal"}}},
{"transform":[{"filter":"datum.s=='I'"}],"mark":{"type":"point","filled":true,"size":16,"opacity":1},"encoding":{"x":{"field":"x","type":"quantitative","axis":{"values":[-20,-10,0,10],"format":"d","title":null}},"y":{"field":"y","type":"quantitative","axis":{"values":[2,2.5,3,3.5,4,4.5],"format":".1f","title":null}},"color":{"field":"s","type":"nominal"},"shape":{"field":"s","type":"nominal"}}},
{"transform":[{"filter":"datum.s=='W'"}],"mark":{"type":"rule","strokeWidth":1.6,"color":"#3030d0"},"encoding":{"x":{"field":"x","type":"quantitative","axis":{"values":[-20,-10,0,10],"format":"d","title":null}},"x2":{"field":"x2"},"y":{"field":"y","type":"quantitative","axis":{"values":[2,2.5,3,3.5,4,4.5],"format":".1f","title":null}}}},
{"transform":[{"filter":"datum.k=='n'"}],"mark":{"type":"text","align":"left","baseline":"alphabetic","fontSize":19,"color":"#262626"},"encoding":{"x":{"datum":-32.9,"type":"quantitative","scale":{"domain":[-26,12.4],"nice":false,"zero":false},"axis":{"values":[-20,-10,0,10],"format":"d","title":null}},"y":{"datum":4.59,"type":"quantitative","scale":{"domain":[1.73,4.6],"nice":false,"zero":false},"axis":{"values":[2,2.5,3,3.5,4,4.5],"format":".1f","title":null}},"text":{"field":"t"}}},
{"transform":[{"filter":"datum.k=='h'"}],"mark":{"type":"text","align":"center","baseline":"alphabetic","fontSize":15,"color":"#262626"},"encoding":{"x":{"datum":-6.8,"type":"quantitative","scale":{"domain":[-26,12.4],"nice":false,"zero":false},"axis":{"values":[-20,-10,0,10],"format":"d","title":null}},"y":{"datum":4.68,"type":"quantitative","scale":{"domain":[1.73,4.6],"nice":false,"zero":false},"axis":{"values":[2,2.5,3,3.5,4,4.5],"format":".1f","title":null}},"text":{"field":"t"}}}
]},
{"width":279,"height":233,"transform":[{"filter":"datum.p==3"}],
"layer":[
{"transform":[{"filter":"datum.s=='L'||datum.s=='E'||datum.s=='H'||datum.s=='D'"}],"mark":{"type":"point","filled":true,"size":10,"opacity":1},"encoding":{"x":{"field":"x","type":"quantitative","scale":{"domain":[-15,10],"nice":false,"zero":false},"axis":{"values":[-15,-10,-5,0,5,10],"format":"d","title":null}},"y":{"field":"y","type":"quantitative","scale":{"domain":[0,5],"nice":false,"zero":false},"axis":{"values":[0,1,2,3,4,5],"format":"d","title":null}},"color":{"field":"s","type":"nominal"},"shape":{"field":"s","type":"nominal"}}},
{"transform":[{"filter":"datum.s=='I'"}],"mark":{"type":"point","filled":true,"size":16,"opacity":1},"encoding":{"x":{"field":"x","type":"quantitative","axis":{"values":[-15,-10,-5,0,5,10],"format":"d","title":null}},"y":{"field":"y","type":"quantitative","axis":{"values":[0,1,2,3,4,5],"format":"d","title":null}},"color":{"field":"s","type":"nominal"},"shape":{"field":"s","type":"nominal"}}},
{"transform":[{"filter":"datum.s=='W'"}],"mark":{"type":"rule","strokeWidth":1.6,"color":"#3030d0"},"encoding":{"x":{"field":"x","type":"quantitative","axis":{"values":[-15,-10,-5,0,5,10],"format":"d","title":null}},"x2":{"field":"x2"},"y":{"field":"y","type":"quantitative","axis":{"values":[0,1,2,3,4,5],"format":"d","title":null}}}},
{"transform":[{"filter":"datum.k=='n'"}],"mark":{"type":"text","align":"left","baseline":"alphabetic","fontSize":19,"color":"#262626"},"encoding":{"x":{"datum":-18.8,"type":"quantitative","scale":{"domain":[-15,10],"nice":false,"zero":false},"axis":{"values":[-15,-10,-5,0,5,10],"format":"d","title":null}},"y":{"datum":4.98,"type":"quantitative","scale":{"domain":[0,5],"nice":false,"zero":false},"axis":{"values":[0,1,2,3,4,5],"format":"d","title":null}},"text":{"field":"t"}}},
{"transform":[{"filter":"datum.k=='h'"}],"mark":{"type":"text","align":"center","baseline":"alphabetic","fontSize":15,"color":"#262626"},"encoding":{"x":{"datum":-2.5,"type":"quantitative","scale":{"domain":[-15,10],"nice":false,"zero":false},"axis":{"values":[-15,-10,-5,0,5,10],"format":"d","title":null}},"y":{"datum":5.139,"type":"quantitative","scale":{"domain":[0,5],"nice":false,"zero":false},"axis":{"values":[0,1,2,3,4,5],"format":"d","title":null}},"text":{"field":"t"}}}
]},
{"width":279,"height":233,"transform":[{"filter":"datum.p==4"}],
"layer":[
{"transform":[{"filter":"datum.s=='L'||datum.s=='E'||datum.s=='H'||datum.s=='D'"}],"mark":{"type":"point","filled":true,"size":10,"opacity":1},"encoding":{"x":{"field":"x","type":"quantitative","scale":{"domain":[-20,20],"nice":false,"zero":false},"axis":{"values":[-20,-10,0,10,20],"format":"d","title":"Distance along cross section, m"}},"y":{"field":"y","type":"quantitative","scale":{"domain":[-0.53,5],"nice":false,"zero":false},"axis":{"values":[0,1,2,3,4,5],"format":"d","title":"River bottom elevation, m"}},"color":{"field":"s","type":"nominal"},"shape":{"field":"s","type":"nominal"}}},
{"transform":[{"filter":"datum.s=='I'"}],"mark":{"type":"point","filled":true,"size":16,"opacity":1},"encoding":{"x":{"field":"x","type":"quantitative","axis":{"values":[-20,-10,0,10,20],"format":"d","title":"Distance along cross section, m"}},"y":{"field":"y","type":"quantitative","axis":{"values":[0,1,2,3,4,5],"format":"d","title":"River bottom elevation, m"}},"color":{"field":"s","type":"nominal"},"shape":{"field":"s","type":"nominal"}}},
{"transform":[{"filter":"datum.s=='W'"}],"mark":{"type":"rule","strokeWidth":1.6,"color":"#3030d0"},"encoding":{"x":{"field":"x","type":"quantitative","axis":{"values":[-20,-10,0,10,20],"format":"d","title":"Distance along cross section, m"}},"x2":{"field":"x2"},"y":{"field":"y","type":"quantitative","axis":{"values":[0,1,2,3,4,5],"format":"d","title":"River bottom elevation, m"}}}},
{"transform":[{"filter":"datum.k=='n'"}],"mark":{"type":"text","align":"left","baseline":"alphabetic","fontSize":19,"color":"#262626"},"encoding":{"x":{"datum":-26.9,"type":"quantitative","scale":{"domain":[-20,20],"nice":false,"zero":false},"axis":{"values":[-20,-10,0,10,20],"format":"d","title":"Distance along cross section, m"}},"y":{"datum":4.88,"type":"quantitative","scale":{"domain":[-0.53,5],"nice":false,"zero":false},"axis":{"values":[0,1,2,3,4,5],"format":"d","title":"River bottom elevation, m"}},"text":{"field":"t"}}},
{"transform":[{"filter":"datum.k=='h'"}],"mark":{"type":"text","align":"center","baseline":"alphabetic","fontSize":15,"color":"#262626"},"encoding":{"x":{"datum":0,"type":"quantitative","scale":{"domain":[-20,20],"nice":false,"zero":false},"axis":{"values":[-20,-10,0,10,20],"format":"d","title":"Distance along cross section, m"}},"y":{"datum":5.154,"type":"quantitative","scale":{"domain":[-0.53,5],"nice":false,"zero":false},"axis":{"values":[0,1,2,3,4,5],"format":"d","title":"River bottom elevation, m"}},"text":{"field":"t"}}}
]},
{"width":279,"height":233,"transform":[{"filter":"datum.p==5"}],
"layer":[
{"transform":[{"filter":"datum.s=='L'||datum.s=='E'||datum.s=='H'||datum.s=='D'"}],"mark":{"type":"point","filled":true,"size":10,"opacity":1},"encoding":{"x":{"field":"x","type":"quantitative","scale":{"domain":[-22.8,36],"nice":false,"zero":false},"axis":{"values":[-20,0,20],"format":"d","title":"Distance along cross section, m"}},"y":{"field":"y","type":"quantitative","scale":{"domain":[-1.07,5.47],"nice":false,"zero":false},"axis":{"values":[-1,0,1,2,3,4,5],"format":"d","title":null}},"color":{"field":"s","type":"nominal"},"shape":{"field":"s","type":"nominal"}}},
{"transform":[{"filter":"datum.s=='I'"}],"mark":{"type":"point","filled":true,"size":16,"opacity":1},"encoding":{"x":{"field":"x","type":"quantitative","axis":{"values":[-20,0,20],"format":"d","title":"Distance along cross section, m"}},"y":{"field":"y","type":"quantitative","axis":{"values":[-1,0,1,2,3,4,5],"format":"d","title":null}},"color":{"field":"s","type":"nominal"},"shape":{"field":"s","type":"nominal"}}},
{"transform":[{"filter":"datum.s=='W'"}],"mark":{"type":"rule","strokeWidth":1.6,"color":"#3030d0"},"encoding":{"x":{"field":"x","type":"quantitative","axis":{"values":[-20,0,20],"format":"d","title":"Distance along cross section, m"}},"x2":{"field":"x2"},"y":{"field":"y","type":"quantitative","axis":{"values":[-1,0,1,2,3,4,5],"format":"d","title":null}}}},
{"transform":[{"filter":"datum.k=='n'"}],"mark":{"type":"text","align":"left","baseline":"alphabetic","fontSize":19,"color":"#262626"},"encoding":{"x":{"datum":-31.9,"type":"quantitative","scale":{"domain":[-22.8,36],"nice":false,"zero":false},"axis":{"values":[-20,0,20],"format":"d","title":"Distance along cross section, m"}},"y":{"datum":5.27,"type":"quantitative","scale":{"domain":[-1.07,5.47],"nice":false,"zero":false},"axis":{"values":[-1,0,1,2,3,4,5],"format":"d","title":null}},"text":{"field":"t"}}},
{"transform":[{"filter":"datum.k=='h'"}],"mark":{"type":"text","align":"center","baseline":"alphabetic","fontSize":15,"color":"#262626"},"encoding":{"x":{"datum":6.6,"type":"quantitative","scale":{"domain":[-22.8,36],"nice":false,"zero":false},"axis":{"values":[-20,0,20],"format":"d","title":"Distance along cross section, m"}},"y":{"datum":5.653,"type":"quantitative","scale":{"domain":[-1.07,5.47],"nice":false,"zero":false},"axis":{"values":[-1,0,1,2,3,4,5],"format":"d","title":null}},"text":{"field":"t"}}}
]},
{"width":279,"height":233,"transform":[{"filter":"datum.p==6"}],
"layer":[
{"transform":[{"filter":"datum.s=='L'||datum.s=='E'||datum.s=='H'||datum.s=='D'"}],"mark":{"type":"point","filled":true,"size":10,"opacity":1},"encoding":{"x":{"field":"x","type":"quantitative","scale":{"domain":[-20,20],"nice":false,"zero":false},"axis":{"values":[-20,-10,0,10,20],"format":"d","title":"Distance along cross section, m"}},"y":{"field":"y","type":"quantitative","scale":{"domain":[-0.16,5],"nice":false,"zero":false},"axis":{"values":[0,1,2,3,4,5],"format":"d","title":null}},"color":{"field":"s","type":"nominal"},"shape":{"field":"s","type":"nominal"}}},
{"transform":[{"filter":"datum.s=='I'"}],"mark":{"type":"point","filled":true,"size":16,"opacity":1},"encoding":{"x":{"field":"x","type":"quantitative","axis":{"values":[-20,-10,0,10,20],"format":"d","title":"Distance along cross section, m"}},"y":{"field":"y","type":"quantitative","axis":{"values":[0,1,2,3,4,5],"format":"d","title":null}},"color":{"field":"s","type":"nominal"},"shape":{"field":"s","type":"nominal"}}},
{"transform":[{"filter":"datum.s=='W'"}],"mark":{"type":"rule","strokeWidth":1.6,"color":"#3030d0"},"encoding":{"x":{"field":"x","type":"quantitative","axis":{"values":[-20,-10,0,10,20],"format":"d","title":"Distance along cross section, m"}},"x2":{"field":"x2"},"y":{"field":"y","type":"quantitative","axis":{"values":[0,1,2,3,4,5],"format":"d","title":null}}}},
{"transform":[{"filter":"datum.k=='n'"}],"mark":{"type":"text","align":"left","baseline":"alphabetic","fontSize":19,"color":"#262626"},"encoding":{"x":{"datum":-25.6,"type":"quantitative","scale":{"domain":[-20,20],"nice":false,"zero":false},"axis":{"values":[-20,-10,0,10,20],"format":"d","title":"Distance along cross section, m"}},"y":{"datum":4.8,"type":"quantitative","scale":{"domain":[-0.16,5],"nice":false,"zero":false},"axis":{"values":[0,1,2,3,4,5],"format":"d","title":null}},"text":{"field":"t"}}},
{"transform":[{"filter":"datum.k=='h'"}],"mark":{"type":"text","align":"center","baseline":"alphabetic","fontSize":15,"color":"#262626"},"encoding":{"x":{"datum":0,"type":"quantitative","scale":{"domain":[-20,20],"nice":false,"zero":false},"axis":{"values":[-20,-10,0,10,20],"format":"d","title":"Distance along cross section, m"}},"y":{"datum":5.144,"type":"quantitative","scale":{"domain":[-0.16,5],"nice":false,"zero":false},"axis":{"values":[0,1,2,3,4,5],"format":"d","title":null}},"text":{"field":"t"}}}
]}
]
}
